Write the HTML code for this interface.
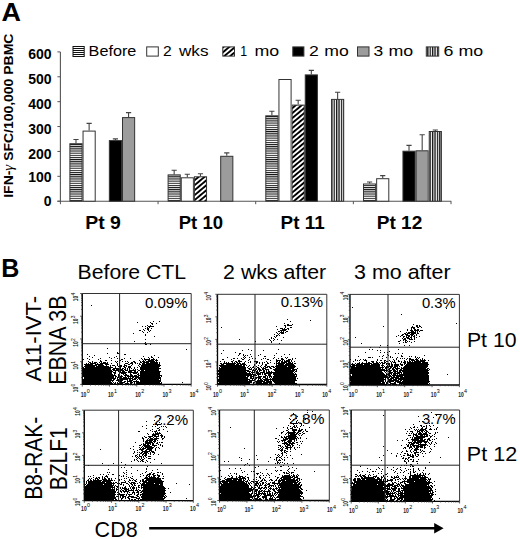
<!DOCTYPE html>
<html><head><meta charset="utf-8"><style>
html,body{margin:0;padding:0;background:#fff;}
svg{display:block;font-family:"Liberation Sans",sans-serif;}
</style></head><body>
<svg width="520" height="539" viewBox="0 0 520 539">
<rect width="520" height="539" fill="#fff"/>
<text x="1.59" y="20.50" font-size="26.38" font-weight="bold" textLength="19.48" lengthAdjust="spacingAndGlyphs" fill="#000" >A</text>
<text transform="translate(13.00,197.77) rotate(-90)" x="0" y="0" font-size="13.06" font-weight="bold" textLength="164.11" lengthAdjust="spacingAndGlyphs">IFN-<tspan font-family="Liberation Serif" font-style="italic" font-weight="normal" font-size="14">γ</tspan> SFC/100,000 PBMC</text>
<path d="M60.4 51.9V201.7" stroke="#555" stroke-width="1.1" fill="none"/>
<path d="M57.4 201.2H451.2" stroke="#555" stroke-width="1.1" fill="none"/>
<path d="M57.4 201.20H60.4M57.4 176.32H60.4M57.4 151.43H60.4M57.4 126.55H60.4M57.4 101.67H60.4M57.4 76.78H60.4M57.4 51.90H60.4" stroke="#555" stroke-width="1" fill="none"/>
<path d="M60.40 201.2V204.2M158.05 201.2V204.2M255.70 201.2V204.2M353.35 201.2V204.2M451.00 201.2V204.2" stroke="#555" stroke-width="1" fill="none"/>
<text x="28.18" y="58.70" font-size="14.0" font-weight="bold">600</text>
<text x="28.18" y="83.90" font-size="14.0" font-weight="bold">500</text>
<text x="28.18" y="108.70" font-size="14.0" font-weight="bold">400</text>
<text x="28.18" y="134.10" font-size="14.0" font-weight="bold">300</text>
<text x="28.18" y="158.90" font-size="14.0" font-weight="bold">200</text>
<text x="28.18" y="182.10" font-size="14.0" font-weight="bold">100</text>
<text x="43.72" y="206.10" font-size="14.0" font-weight="bold">0</text>
<defs>
<pattern id="hs" patternUnits="userSpaceOnUse" width="20" height="2.15"><rect width="20" height="1.05" fill="#111"/></pattern>
<pattern id="vs" patternUnits="userSpaceOnUse" width="2.4" height="20"><rect width="1.3" height="20" fill="#111"/></pattern>
<pattern id="dg" patternUnits="userSpaceOnUse" width="3.8" height="20" patternTransform="rotate(50)"><rect width="1.9" height="20" fill="#000"/></pattern>
</defs>
<rect x="69.40" y="143.20" width="13.15" height="58.00" fill="#fff"/>
<rect x="69.90" y="143.70" width="12.15" height="57.50" fill="url(#hs)" stroke="#333" stroke-width="1"/>
<path d="M75.98 143.20V139.50M73.38 139.50H78.58" stroke="#444" stroke-width="1.1" fill="none"/>
<rect x="83.05" y="131.10" width="12.15" height="70.10" fill="#fff" stroke="#333" stroke-width="1"/>
<path d="M89.13 130.60V123.40M86.53 123.40H91.73" stroke="#444" stroke-width="1.1" fill="none"/>
<rect x="109.35" y="140.60" width="12.15" height="60.60" fill="#000" stroke="#333" stroke-width="1"/>
<path d="M115.43 140.10V138.90M112.83 138.90H118.03" stroke="#444" stroke-width="1.1" fill="none"/>
<rect x="122.50" y="117.60" width="12.15" height="83.60" fill="#9c9c9c" stroke="#333" stroke-width="1"/>
<path d="M128.57 117.10V112.60M125.97 112.60H131.17" stroke="#444" stroke-width="1.1" fill="none"/>
<rect x="167.60" y="174.40" width="13.15" height="26.80" fill="#fff"/>
<rect x="168.10" y="174.90" width="12.15" height="26.30" fill="url(#hs)" stroke="#333" stroke-width="1"/>
<path d="M174.17 174.40V170.20M171.57 170.20H176.77" stroke="#444" stroke-width="1.1" fill="none"/>
<rect x="181.25" y="177.80" width="12.15" height="23.40" fill="#fff" stroke="#333" stroke-width="1"/>
<path d="M187.32 177.30V174.20M184.72 174.20H189.92" stroke="#444" stroke-width="1.1" fill="none"/>
<rect x="193.90" y="176.30" width="13.15" height="24.90" fill="#fff"/>
<rect x="194.40" y="176.80" width="12.15" height="24.40" fill="url(#dg)" stroke="#333" stroke-width="1"/>
<path d="M200.47 176.30V173.80M197.88 173.80H203.07" stroke="#444" stroke-width="1.1" fill="none"/>
<rect x="220.70" y="156.30" width="12.15" height="44.90" fill="#9c9c9c" stroke="#333" stroke-width="1"/>
<path d="M226.77 155.80V152.90M224.17 152.90H229.37" stroke="#444" stroke-width="1.1" fill="none"/>
<rect x="265.30" y="115.30" width="13.15" height="85.90" fill="#fff"/>
<rect x="265.80" y="115.80" width="12.15" height="85.40" fill="url(#hs)" stroke="#333" stroke-width="1"/>
<path d="M271.88 115.30V111.30M269.27 111.30H274.48" stroke="#444" stroke-width="1.1" fill="none"/>
<rect x="278.95" y="79.50" width="12.15" height="121.70" fill="#fff" stroke="#333" stroke-width="1"/>
<rect x="291.60" y="104.60" width="13.15" height="96.60" fill="#fff"/>
<rect x="292.10" y="105.10" width="12.15" height="96.10" fill="url(#dg)" stroke="#333" stroke-width="1"/>
<path d="M298.18 104.60V100.30M295.57 100.30H300.78" stroke="#444" stroke-width="1.1" fill="none"/>
<rect x="305.25" y="74.90" width="12.15" height="126.30" fill="#000" stroke="#333" stroke-width="1"/>
<path d="M311.32 74.40V70.40M308.72 70.40H313.93" stroke="#444" stroke-width="1.1" fill="none"/>
<rect x="331.05" y="98.90" width="13.15" height="102.30" fill="#fff"/>
<rect x="331.55" y="99.40" width="12.15" height="101.80" fill="url(#vs)" stroke="#333" stroke-width="1"/>
<path d="M337.62 98.90V92.30M335.02 92.30H340.23" stroke="#444" stroke-width="1.1" fill="none"/>
<rect x="363.00" y="183.50" width="13.15" height="17.70" fill="#fff"/>
<rect x="363.50" y="184.00" width="12.15" height="17.20" fill="url(#hs)" stroke="#333" stroke-width="1"/>
<path d="M369.57 183.50V182.00M366.97 182.00H372.18" stroke="#444" stroke-width="1.1" fill="none"/>
<rect x="376.65" y="178.70" width="12.15" height="22.50" fill="#fff" stroke="#333" stroke-width="1"/>
<path d="M382.72 178.20V175.60M380.12 175.60H385.32" stroke="#444" stroke-width="1.1" fill="none"/>
<rect x="402.95" y="151.20" width="12.15" height="50.00" fill="#000" stroke="#333" stroke-width="1"/>
<path d="M409.02 150.70V145.40M406.42 145.40H411.62" stroke="#444" stroke-width="1.1" fill="none"/>
<rect x="416.10" y="150.80" width="12.15" height="50.40" fill="#9c9c9c" stroke="#333" stroke-width="1"/>
<path d="M422.18 150.30V134.80M419.57 134.80H424.78" stroke="#444" stroke-width="1.1" fill="none"/>
<rect x="428.75" y="131.00" width="13.15" height="70.20" fill="#fff"/>
<rect x="429.25" y="131.50" width="12.15" height="69.70" fill="url(#vs)" stroke="#333" stroke-width="1"/>
<path d="M435.32 131.00V130.00M432.72 130.00H437.93" stroke="#444" stroke-width="1.1" fill="none"/>
<rect x="72.5" y="46" width="12.2" height="11" fill="#fff"/>
<path d="M72.5 46h12.2v1h-12.2zM72.5 48h12.2v1h-12.2zM72.5 50h12.2v1h-12.2zM72.5 52h12.2v1h-12.2zM72.5 54h12.2v1h-12.2zM72.5 56h12.2v1h-12.2zM72.5 46h1v11h-1zM83.7 46h1v11h-1z" fill="#111"/>
<text x="88.60" y="56.20" font-size="15.00" font-weight="normal" textLength="47.74" lengthAdjust="spacingAndGlyphs" fill="#000" >Before</text>
<rect x="146.70" y="46.9" width="11.60" height="9.20" fill="#fff" stroke="#333" stroke-width="1"/>
<text x="163.02" y="56.10" font-size="15.29" font-weight="normal" textLength="8.70" lengthAdjust="spacingAndGlyphs" fill="#000" >2</text>
<text x="179.00" y="56.10" font-size="15.29" font-weight="normal" textLength="29.52" lengthAdjust="spacingAndGlyphs" fill="#000" >wks</text>
<rect x="222.30" y="46.4" width="12.70" height="10.20" fill="#fff"/>
<rect x="222.80" y="46.9" width="11.70" height="9.20" fill="url(#dg)" stroke="#333" stroke-width="1"/>
<text x="240.31" y="56.10" font-size="15.51" font-weight="normal" textLength="6.85" lengthAdjust="spacingAndGlyphs" fill="#000" >1</text>
<text x="254.45" y="56.10" font-size="15.51" font-weight="normal" textLength="24.72" lengthAdjust="spacingAndGlyphs" fill="#000" >mo</text>
<rect x="292.80" y="46.9" width="11.10" height="9.20" fill="#000" stroke="#333" stroke-width="1"/>
<text x="308.92" y="56.10" font-size="15.29" font-weight="normal" textLength="9.79" lengthAdjust="spacingAndGlyphs" fill="#000" >2</text>
<text x="324.37" y="56.10" font-size="15.29" font-weight="normal" textLength="24.50" lengthAdjust="spacingAndGlyphs" fill="#000" >mo</text>
<rect x="357.50" y="46.9" width="11.50" height="9.20" fill="#9c9c9c" stroke="#333" stroke-width="1"/>
<text x="373.60" y="56.10" font-size="15.29" font-weight="normal" textLength="9.70" lengthAdjust="spacingAndGlyphs" fill="#000" >3</text>
<text x="388.45" y="56.10" font-size="15.29" font-weight="normal" textLength="24.72" lengthAdjust="spacingAndGlyphs" fill="#000" >mo</text>
<rect x="425.80" y="46.4" width="13.40" height="10.20" fill="#fff"/>
<rect x="426.30" y="46.9" width="12.40" height="9.20" fill="url(#vs)" stroke="#333" stroke-width="1"/>
<text x="443.41" y="56.10" font-size="15.29" font-weight="normal" textLength="9.91" lengthAdjust="spacingAndGlyphs" fill="#000" >6</text>
<text x="458.45" y="56.10" font-size="15.29" font-weight="normal" textLength="24.72" lengthAdjust="spacingAndGlyphs" fill="#000" >mo</text>
<text x="85.24" y="229.40" font-size="18.71" font-weight="bold" textLength="35.62" lengthAdjust="spacingAndGlyphs" fill="#000" >Pt 9</text>
<text x="178.70" y="229.40" font-size="18.71" font-weight="bold" textLength="44.34" lengthAdjust="spacingAndGlyphs" fill="#000" >Pt 10</text>
<text x="280.58" y="229.40" font-size="18.99" font-weight="bold" textLength="44.09" lengthAdjust="spacingAndGlyphs" fill="#000" >Pt 11</text>
<text x="376.66" y="229.40" font-size="18.71" font-weight="bold" textLength="45.60" lengthAdjust="spacingAndGlyphs" fill="#000" >Pt 12</text>
<text x="1.24" y="276.90" font-size="26.09" font-weight="bold" textLength="18.11" lengthAdjust="spacingAndGlyphs" fill="#000" >B</text>
<text x="77.50" y="279.20" font-size="20.14" font-weight="normal" textLength="108.60" lengthAdjust="spacingAndGlyphs" fill="#000" >Before CTL</text>
<text x="223.14" y="279.20" font-size="20.14" font-weight="normal" textLength="102.98" lengthAdjust="spacingAndGlyphs" fill="#000" >2 wks after</text>
<text x="354.14" y="279.20" font-size="20.14" font-weight="normal" textLength="96.40" lengthAdjust="spacingAndGlyphs" fill="#000" >3 mo after</text>
<text transform="translate(41.20,381.40) rotate(-90)" x="0" y="0" font-size="22.61" font-weight="normal" textLength="85.62" lengthAdjust="spacingAndGlyphs">A11-IVT-</text>
<text transform="translate(66.40,384.71) rotate(-90)" x="0" y="0" font-size="23.29" font-weight="normal" textLength="89.28" lengthAdjust="spacingAndGlyphs">EBNA 3B</text>
<text transform="translate(41.50,499.68) rotate(-90)" x="0" y="0" font-size="23.00" font-weight="normal" textLength="82.93" lengthAdjust="spacingAndGlyphs">B8-RAK-</text>
<text transform="translate(66.90,490.28) rotate(-90)" x="0" y="0" font-size="23.33" font-weight="normal" textLength="62.94" lengthAdjust="spacingAndGlyphs">BZLF1</text>
<text x="466.90" y="346.80" font-size="20.00" font-weight="normal" textLength="49.64" lengthAdjust="spacingAndGlyphs" fill="#000" >Pt 10</text>
<text x="466.88" y="461.20" font-size="20.57" font-weight="normal" textLength="50.29" lengthAdjust="spacingAndGlyphs" fill="#000" >Pt 12</text>
<text x="94.63" y="536.90" font-size="21.43" font-weight="normal" textLength="42.96" lengthAdjust="spacingAndGlyphs" fill="#000" >CD8</text>
<path d="M149.2 528.3H435" stroke="#000" stroke-width="2.4"/>
<path d="M434.2 523.0L443.6 528.3L434.2 533.4Z" fill="#000"/>
<path d="M91 305h1v1h-1zM82 316h1v1h-1zM153 321h1v1h-1zM159 321h1v1h-1zM137 322h1v1h-1zM150 322h1v1h-1zM151 323h2v1h-2zM156 323h1v1h-1zM152 324h1v1h-1zM147 325h1v1h-1zM150 325h1v1h-1zM142 326h1v1h-1zM145 326h1v1h-1zM148 326h6v1h-6zM147 327h1v1h-1zM149 327h1v1h-1zM145 328h1v1h-1zM147 328h2v1h-2zM151 328h1v1h-1zM143 329h1v1h-1zM147 329h2v1h-2zM139 330h2v1h-2zM144 330h1v1h-1zM148 330h1v1h-1zM150 330h1v1h-1zM142 331h1v1h-1zM149 331h1v1h-1zM143 332h1v1h-1zM147 332h1v1h-1zM133 333h1v1h-1zM145 334h1v1h-1zM145 335h1v1h-1zM154 336h1v1h-1zM145 339h1v1h-1zM134 341h1v1h-1zM145 342h1v1h-1zM144 343h2v1h-2zM145 344h2v1h-2zM150 344h1v1h-1zM107 348h1v1h-1zM186 349h1v1h-1zM117 352h1v1h-1zM107 353h1v1h-1zM117 353h2v1h-2zM87 354h1v1h-1zM124 354h2v1h-2zM94 355h1v1h-1zM154 355h1v1h-1zM89 356h1v1h-1zM116 356h1v1h-1zM143 356h1v1h-1zM151 356h1v1h-1zM92 357h1v1h-1zM109 357h1v1h-1zM114 357h1v1h-1zM148 357h1v1h-1zM151 357h2v1h-2zM158 357h1v1h-1zM87 358h1v1h-1zM100 358h1v1h-1zM111 358h1v1h-1zM117 358h1v1h-1zM119 358h1v1h-1zM124 358h1v1h-1zM130 358h1v1h-1zM141 358h1v1h-1zM144 358h1v1h-1zM149 358h1v1h-1zM153 358h1v1h-1zM83 359h1v1h-1zM89 359h1v1h-1zM98 359h1v1h-1zM121 359h2v1h-2zM142 359h1v1h-1zM144 359h6v1h-6zM151 359h4v1h-4zM156 359h1v1h-1zM100 360h1v1h-1zM105 360h2v1h-2zM111 360h1v1h-1zM119 360h2v1h-2zM139 360h1v1h-1zM143 360h1v1h-1zM145 360h1v1h-1zM148 360h6v1h-6zM155 360h3v1h-3zM88 361h1v1h-1zM92 361h1v1h-1zM100 361h2v1h-2zM115 361h1v1h-1zM117 361h1v1h-1zM122 361h1v1h-1zM125 361h1v1h-1zM127 361h1v1h-1zM133 361h2v1h-2zM140 361h1v1h-1zM142 361h3v1h-3zM146 361h9v1h-9zM156 361h1v1h-1zM89 362h2v1h-2zM92 362h1v1h-1zM94 362h3v1h-3zM99 362h1v1h-1zM101 362h1v1h-1zM103 362h3v1h-3zM107 362h1v1h-1zM116 362h1v1h-1zM119 362h1v1h-1zM128 362h1v1h-1zM131 362h2v1h-2zM134 362h2v1h-2zM140 362h2v1h-2zM143 362h6v1h-6zM150 362h8v1h-8zM159 362h1v1h-1zM86 363h1v1h-1zM88 363h1v1h-1zM90 363h6v1h-6zM97 363h1v1h-1zM100 363h8v1h-8zM111 363h1v1h-1zM117 363h1v1h-1zM125 363h3v1h-3zM130 363h3v1h-3zM135 363h1v1h-1zM137 363h1v1h-1zM139 363h1v1h-1zM142 363h3v1h-3zM146 363h12v1h-12zM159 363h1v1h-1zM84 364h9v1h-9zM95 364h8v1h-8zM105 364h4v1h-4zM117 364h1v1h-1zM124 364h1v1h-1zM128 364h2v1h-2zM132 364h1v1h-1zM139 364h2v1h-2zM142 364h18v1h-18zM85 365h12v1h-12zM98 365h6v1h-6zM106 365h1v1h-1zM110 365h1v1h-1zM112 365h3v1h-3zM117 365h1v1h-1zM119 365h3v1h-3zM124 365h3v1h-3zM131 365h1v1h-1zM138 365h1v1h-1zM141 365h20v1h-20zM84 366h11v1h-11zM96 366h13v1h-13zM110 366h1v1h-1zM115 366h1v1h-1zM118 366h4v1h-4zM123 366h2v1h-2zM126 366h1v1h-1zM128 366h3v1h-3zM139 366h1v1h-1zM141 366h19v1h-19zM82 367h2v1h-2zM85 367h28v1h-28zM115 367h1v1h-1zM120 367h1v1h-1zM124 367h2v1h-2zM128 367h3v1h-3zM134 367h1v1h-1zM137 367h1v1h-1zM140 367h19v1h-19zM83 368h28v1h-28zM113 368h6v1h-6zM120 368h1v1h-1zM122 368h2v1h-2zM125 368h1v1h-1zM127 368h1v1h-1zM129 368h1v1h-1zM131 368h1v1h-1zM134 368h1v1h-1zM140 368h21v1h-21zM82 369h29v1h-29zM112 369h3v1h-3zM116 369h7v1h-7zM124 369h2v1h-2zM127 369h1v1h-1zM129 369h1v1h-1zM133 369h1v1h-1zM135 369h1v1h-1zM137 369h1v1h-1zM140 369h19v1h-19zM82 370h30v1h-30zM113 370h6v1h-6zM120 370h4v1h-4zM125 370h3v1h-3zM129 370h7v1h-7zM138 370h2v1h-2zM141 370h3v1h-3zM145 370h14v1h-14zM83 371h30v1h-30zM115 371h1v1h-1zM118 371h1v1h-1zM120 371h1v1h-1zM122 371h3v1h-3zM128 371h4v1h-4zM134 371h2v1h-2zM137 371h1v1h-1zM140 371h21v1h-21zM82 372h30v1h-30zM113 372h3v1h-3zM119 372h8v1h-8zM128 372h10v1h-10zM140 372h20v1h-20zM82 373h30v1h-30zM114 373h2v1h-2zM119 373h1v1h-1zM121 373h5v1h-5zM130 373h1v1h-1zM133 373h4v1h-4zM138 373h1v1h-1zM140 373h20v1h-20zM83 374h30v1h-30zM114 374h1v1h-1zM118 374h1v1h-1zM123 374h1v1h-1zM125 374h2v1h-2zM130 374h2v1h-2zM137 374h2v1h-2zM140 374h20v1h-20zM83 375h33v1h-33zM118 375h2v1h-2zM121 375h1v1h-1zM124 375h5v1h-5zM130 375h3v1h-3zM134 375h3v1h-3zM138 375h24v1h-24zM82 376h32v1h-32zM115 376h2v1h-2zM118 376h1v1h-1zM120 376h3v1h-3zM125 376h1v1h-1zM127 376h12v1h-12zM140 376h20v1h-20zM161 376h1v1h-1zM84 377h30v1h-30zM115 377h1v1h-1zM117 377h2v1h-2zM120 377h2v1h-2zM123 377h4v1h-4zM128 377h1v1h-1zM130 377h1v1h-1zM132 377h2v1h-2zM135 377h26v1h-26zM84 378h32v1h-32zM117 378h1v1h-1zM119 378h14v1h-14zM134 378h3v1h-3zM138 378h23v1h-23zM82 379h30v1h-30zM113 379h2v1h-2zM117 379h2v1h-2zM120 379h8v1h-8zM129 379h2v1h-2zM132 379h4v1h-4zM137 379h1v1h-1zM139 379h20v1h-20zM160 379h1v1h-1zM82 380h32v1h-32zM116 380h7v1h-7zM127 380h1v1h-1zM129 380h4v1h-4zM136 380h1v1h-1zM140 380h21v1h-21zM82 381h29v1h-29zM112 381h1v1h-1zM118 381h1v1h-1zM120 381h2v1h-2zM124 381h2v1h-2zM127 381h5v1h-5zM133 381h6v1h-6zM140 381h21v1h-21zM82 382h30v1h-30zM113 382h1v1h-1zM115 382h1v1h-1zM117 382h1v1h-1zM119 382h6v1h-6zM127 382h1v1h-1zM130 382h3v1h-3zM134 382h1v1h-1zM136 382h24v1h-24zM161 382h1v1h-1zM182 382h1v1h-1zM82 383h31v1h-31zM114 383h2v1h-2zM117 383h6v1h-6zM125 383h4v1h-4zM130 383h2v1h-2zM134 383h1v1h-1zM136 383h26v1h-26z" fill="#000"/>
<path d="M82.3 293.5H191.2V384.4" stroke="#333" stroke-width="1" fill="none"/>
<path d="M82.3 293.5V384.4H191.2" stroke="#000" stroke-width="1.3" fill="none"/>
<path d="M119.6 293.5V384.4M82.3 343.7H191.2" stroke="#222" stroke-width="1" fill="none"/>
<path d="M82.30 384.4v2.2M82.3 384.40h-2.2M90.50 384.4v1.2M82.3 377.56h-1.2M95.29 384.4v1.2M82.3 373.56h-1.2M98.69 384.4v1.2M82.3 370.72h-1.2M101.33 384.4v1.2M82.3 368.52h-1.2M103.49 384.4v1.2M82.3 366.72h-1.2M105.31 384.4v1.2M82.3 365.20h-1.2M106.89 384.4v1.2M82.3 363.88h-1.2M108.28 384.4v1.2M82.3 362.71h-1.2M109.52 384.4v2.2M82.3 361.67h-2.2M117.72 384.4v1.2M82.3 354.83h-1.2M122.51 384.4v1.2M82.3 350.83h-1.2M125.92 384.4v1.2M82.3 347.99h-1.2M128.55 384.4v1.2M82.3 345.79h-1.2M130.71 384.4v1.2M82.3 343.99h-1.2M132.53 384.4v1.2M82.3 342.47h-1.2M134.11 384.4v1.2M82.3 341.15h-1.2M135.50 384.4v1.2M82.3 339.99h-1.2M136.75 384.4v2.2M82.3 338.95h-2.2M144.95 384.4v1.2M82.3 332.11h-1.2M149.74 384.4v1.2M82.3 328.11h-1.2M153.14 384.4v1.2M82.3 325.27h-1.2M155.78 384.4v1.2M82.3 323.07h-1.2M157.94 384.4v1.2M82.3 321.27h-1.2M159.76 384.4v1.2M82.3 319.75h-1.2M161.34 384.4v1.2M82.3 318.43h-1.2M162.73 384.4v1.2M82.3 317.26h-1.2M163.97 384.4v2.2M82.3 316.23h-2.2M172.17 384.4v1.2M82.3 309.38h-1.2M176.96 384.4v1.2M82.3 305.38h-1.2M180.37 384.4v1.2M82.3 302.54h-1.2M183.00 384.4v1.2M82.3 300.34h-1.2M185.16 384.4v1.2M82.3 298.54h-1.2M186.98 384.4v1.2M82.3 297.02h-1.2M188.56 384.4v1.2M82.3 295.70h-1.2M189.95 384.4v1.2M82.3 294.54h-1.2M191.20 384.4v2.2M82.3 293.50h-2.2" stroke="#333" stroke-width="0.8" fill="none"/>
<text x="80.80" y="396.80" font-size="7.6" font-weight="bold" textLength="5.6" lengthAdjust="spacingAndGlyphs" fill="#222">10</text>
<text x="86.70" y="393.20" font-size="5.4" fill="#000">0</text>
<text transform="translate(78.30,392.20) rotate(-90)" font-size="6.8" font-weight="bold" textLength="5.4" lengthAdjust="spacingAndGlyphs" fill="#222">10</text>
<text transform="translate(74.80,386.50) rotate(-90)" font-size="5.0" fill="#000">0</text>
<text x="108.02" y="396.80" font-size="7.6" font-weight="bold" textLength="5.6" lengthAdjust="spacingAndGlyphs" fill="#222">10</text>
<text x="113.92" y="393.20" font-size="5.4" fill="#000">1</text>
<text transform="translate(78.30,369.47) rotate(-90)" font-size="6.8" font-weight="bold" textLength="5.4" lengthAdjust="spacingAndGlyphs" fill="#222">10</text>
<text transform="translate(74.80,363.77) rotate(-90)" font-size="5.0" fill="#000">1</text>
<text x="135.25" y="396.80" font-size="7.6" font-weight="bold" textLength="5.6" lengthAdjust="spacingAndGlyphs" fill="#222">10</text>
<text x="141.15" y="393.20" font-size="5.4" fill="#000">2</text>
<text transform="translate(78.30,346.75) rotate(-90)" font-size="6.8" font-weight="bold" textLength="5.4" lengthAdjust="spacingAndGlyphs" fill="#222">10</text>
<text transform="translate(74.80,341.05) rotate(-90)" font-size="5.0" fill="#000">2</text>
<text x="162.47" y="396.80" font-size="7.6" font-weight="bold" textLength="5.6" lengthAdjust="spacingAndGlyphs" fill="#222">10</text>
<text x="168.38" y="393.20" font-size="5.4" fill="#000">3</text>
<text transform="translate(78.30,324.03) rotate(-90)" font-size="6.8" font-weight="bold" textLength="5.4" lengthAdjust="spacingAndGlyphs" fill="#222">10</text>
<text transform="translate(74.80,318.33) rotate(-90)" font-size="5.0" fill="#000">3</text>
<text x="189.70" y="396.80" font-size="7.6" font-weight="bold" textLength="5.6" lengthAdjust="spacingAndGlyphs" fill="#222">10</text>
<text x="195.60" y="393.20" font-size="5.4" fill="#000">4</text>
<text transform="translate(78.30,301.30) rotate(-90)" font-size="6.8" font-weight="bold" textLength="5.4" lengthAdjust="spacingAndGlyphs" fill="#222">10</text>
<text transform="translate(74.80,295.60) rotate(-90)" font-size="5.0" fill="#000">4</text>
<text x="144.90" y="307.90" font-size="15.14" font-weight="normal" textLength="42.74" lengthAdjust="spacingAndGlyphs" fill="#000" >0.09%</text>
<path d="M287 319h1v1h-1zM310 320h1v1h-1zM290 321h1v1h-1zM284 323h1v1h-1zM287 324h2v1h-2zM292 324h1v1h-1zM284 325h2v1h-2zM287 325h5v1h-5zM276 326h1v1h-1zM285 326h1v1h-1zM221 327h1v1h-1zM285 327h1v1h-1zM290 327h2v1h-2zM280 328h3v1h-3zM284 328h1v1h-1zM287 328h2v1h-2zM277 329h1v1h-1zM282 329h5v1h-5zM288 329h1v1h-1zM280 330h6v1h-6zM278 331h2v1h-2zM281 331h1v1h-1zM283 331h1v1h-1zM286 331h2v1h-2zM276 332h1v1h-1zM280 332h4v1h-4zM285 332h1v1h-1zM277 333h1v1h-1zM279 333h1v1h-1zM281 333h3v1h-3zM274 334h1v1h-1zM278 334h1v1h-1zM276 335h2v1h-2zM279 335h1v1h-1zM274 336h1v1h-1zM276 336h1v1h-1zM271 337h1v1h-1zM275 337h1v1h-1zM283 337h1v1h-1zM271 338h1v1h-1zM273 338h1v1h-1zM239 339h1v1h-1zM269 339h1v1h-1zM274 339h1v1h-1zM277 339h1v1h-1zM270 340h1v1h-1zM273 340h1v1h-1zM281 340h1v1h-1zM255 341h1v1h-1zM271 341h1v1h-1zM271 342h1v1h-1zM279 343h1v1h-1zM248 349h1v1h-1zM278 349h1v1h-1zM223 350h1v1h-1zM242 350h1v1h-1zM251 350h1v1h-1zM263 350h1v1h-1zM235 352h1v1h-1zM221 353h1v1h-1zM239 353h2v1h-2zM276 353h1v1h-1zM239 354h1v1h-1zM243 354h1v1h-1zM250 354h1v1h-1zM260 354h1v1h-1zM284 354h1v1h-1zM289 354h1v1h-1zM238 355h1v1h-1zM243 355h1v1h-1zM245 355h1v1h-1zM247 355h1v1h-1zM258 355h1v1h-1zM274 355h1v1h-1zM244 356h1v1h-1zM251 356h1v1h-1zM264 356h2v1h-2zM281 356h1v1h-1zM227 357h1v1h-1zM243 357h1v1h-1zM245 357h1v1h-1zM249 357h1v1h-1zM274 357h1v1h-1zM285 357h1v1h-1zM287 357h1v1h-1zM233 358h2v1h-2zM237 358h1v1h-1zM241 358h1v1h-1zM244 358h1v1h-1zM252 358h1v1h-1zM255 358h1v1h-1zM263 358h1v1h-1zM265 358h1v1h-1zM273 358h1v1h-1zM278 358h1v1h-1zM281 358h2v1h-2zM286 358h1v1h-1zM292 358h1v1h-1zM295 358h1v1h-1zM222 359h2v1h-2zM231 359h1v1h-1zM242 359h2v1h-2zM249 359h1v1h-1zM261 359h1v1h-1zM267 359h2v1h-2zM276 359h1v1h-1zM281 359h3v1h-3zM288 359h3v1h-3zM292 359h1v1h-1zM233 360h1v1h-1zM238 360h2v1h-2zM248 360h1v1h-1zM270 360h1v1h-1zM276 360h5v1h-5zM282 360h1v1h-1zM284 360h1v1h-1zM286 360h4v1h-4zM291 360h1v1h-1zM220 361h1v1h-1zM224 361h1v1h-1zM231 361h2v1h-2zM235 361h2v1h-2zM238 361h4v1h-4zM245 361h1v1h-1zM250 361h1v1h-1zM254 361h4v1h-4zM266 361h1v1h-1zM276 361h2v1h-2zM279 361h1v1h-1zM281 361h2v1h-2zM284 361h6v1h-6zM291 361h1v1h-1zM294 361h1v1h-1zM224 362h1v1h-1zM226 362h1v1h-1zM228 362h1v1h-1zM232 362h1v1h-1zM234 362h1v1h-1zM236 362h2v1h-2zM239 362h1v1h-1zM244 362h1v1h-1zM248 362h1v1h-1zM250 362h1v1h-1zM256 362h2v1h-2zM259 362h1v1h-1zM262 362h1v1h-1zM264 362h1v1h-1zM267 362h1v1h-1zM270 362h1v1h-1zM276 362h1v1h-1zM278 362h2v1h-2zM281 362h6v1h-6zM288 362h3v1h-3zM292 362h1v1h-1zM220 363h2v1h-2zM223 363h13v1h-13zM237 363h4v1h-4zM242 363h3v1h-3zM256 363h1v1h-1zM259 363h1v1h-1zM262 363h1v1h-1zM267 363h2v1h-2zM274 363h1v1h-1zM276 363h9v1h-9zM286 363h7v1h-7zM294 363h2v1h-2zM221 364h3v1h-3zM226 364h9v1h-9zM236 364h3v1h-3zM240 364h6v1h-6zM254 364h1v1h-1zM262 364h1v1h-1zM265 364h2v1h-2zM276 364h1v1h-1zM278 364h6v1h-6zM285 364h9v1h-9zM219 365h23v1h-23zM243 365h2v1h-2zM246 365h1v1h-1zM249 365h1v1h-1zM254 365h1v1h-1zM258 365h1v1h-1zM261 365h1v1h-1zM265 365h2v1h-2zM276 365h19v1h-19zM220 366h25v1h-25zM248 366h1v1h-1zM253 366h1v1h-1zM256 366h1v1h-1zM260 366h1v1h-1zM264 366h2v1h-2zM267 366h3v1h-3zM271 366h3v1h-3zM275 366h12v1h-12zM288 366h8v1h-8zM219 367h1v1h-1zM221 367h25v1h-25zM247 367h1v1h-1zM250 367h1v1h-1zM252 367h2v1h-2zM257 367h2v1h-2zM261 367h1v1h-1zM263 367h1v1h-1zM265 367h3v1h-3zM269 367h2v1h-2zM273 367h2v1h-2zM276 367h19v1h-19zM219 368h27v1h-27zM248 368h2v1h-2zM251 368h1v1h-1zM254 368h1v1h-1zM256 368h1v1h-1zM258 368h2v1h-2zM262 368h4v1h-4zM270 368h2v1h-2zM275 368h19v1h-19zM297 368h1v1h-1zM219 369h27v1h-27zM249 369h3v1h-3zM253 369h1v1h-1zM255 369h2v1h-2zM258 369h3v1h-3zM262 369h2v1h-2zM265 369h4v1h-4zM273 369h18v1h-18zM292 369h5v1h-5zM218 370h31v1h-31zM252 370h4v1h-4zM257 370h1v1h-1zM259 370h3v1h-3zM263 370h2v1h-2zM266 370h1v1h-1zM268 370h1v1h-1zM274 370h21v1h-21zM296 370h1v1h-1zM218 371h28v1h-28zM247 371h4v1h-4zM252 371h1v1h-1zM254 371h1v1h-1zM256 371h2v1h-2zM259 371h1v1h-1zM263 371h2v1h-2zM266 371h1v1h-1zM268 371h2v1h-2zM271 371h1v1h-1zM275 371h19v1h-19zM295 371h2v1h-2zM219 372h28v1h-28zM249 372h1v1h-1zM251 372h4v1h-4zM256 372h3v1h-3zM260 372h5v1h-5zM266 372h27v1h-27zM294 372h1v1h-1zM218 373h33v1h-33zM252 373h1v1h-1zM256 373h5v1h-5zM262 373h1v1h-1zM264 373h8v1h-8zM273 373h21v1h-21zM295 373h1v1h-1zM218 374h38v1h-38zM257 374h4v1h-4zM262 374h1v1h-1zM264 374h2v1h-2zM268 374h3v1h-3zM273 374h24v1h-24zM219 375h33v1h-33zM253 375h4v1h-4zM258 375h1v1h-1zM265 375h2v1h-2zM268 375h3v1h-3zM274 375h21v1h-21zM296 375h1v1h-1zM218 376h28v1h-28zM247 376h2v1h-2zM250 376h4v1h-4zM258 376h4v1h-4zM263 376h3v1h-3zM267 376h1v1h-1zM269 376h3v1h-3zM273 376h24v1h-24zM219 377h29v1h-29zM250 377h2v1h-2zM253 377h1v1h-1zM255 377h6v1h-6zM263 377h3v1h-3zM267 377h1v1h-1zM269 377h1v1h-1zM271 377h1v1h-1zM273 377h23v1h-23zM219 378h29v1h-29zM250 378h4v1h-4zM255 378h2v1h-2zM258 378h3v1h-3zM262 378h1v1h-1zM265 378h3v1h-3zM270 378h1v1h-1zM272 378h24v1h-24zM297 378h1v1h-1zM218 379h32v1h-32zM252 379h1v1h-1zM254 379h2v1h-2zM258 379h1v1h-1zM260 379h2v1h-2zM263 379h33v1h-33zM218 380h30v1h-30zM249 380h6v1h-6zM257 380h6v1h-6zM264 380h5v1h-5zM270 380h1v1h-1zM272 380h25v1h-25zM218 381h34v1h-34zM255 381h10v1h-10zM266 381h6v1h-6zM273 381h22v1h-22zM219 382h33v1h-33zM253 382h2v1h-2zM256 382h6v1h-6zM263 382h9v1h-9zM274 382h21v1h-21zM218 383h32v1h-32zM253 383h1v1h-1zM256 383h12v1h-12zM269 383h3v1h-3zM275 383h22v1h-22z" fill="#000"/>
<path d="M217.5 294.3H326.8V384.5" stroke="#333" stroke-width="1" fill="none"/>
<path d="M217.5 294.3V384.5H326.8" stroke="#000" stroke-width="1.3" fill="none"/>
<path d="M255.0 294.3V384.5M217.5 344.2H326.8" stroke="#222" stroke-width="1" fill="none"/>
<path d="M217.50 384.5v2.2M217.5 384.50h-2.2M225.73 384.5v1.2M217.5 377.71h-1.2M230.54 384.5v1.2M217.5 373.74h-1.2M233.95 384.5v1.2M217.5 370.92h-1.2M236.60 384.5v1.2M217.5 368.74h-1.2M238.76 384.5v1.2M217.5 366.95h-1.2M240.59 384.5v1.2M217.5 365.44h-1.2M242.18 384.5v1.2M217.5 364.14h-1.2M243.57 384.5v1.2M217.5 362.98h-1.2M244.82 384.5v2.2M217.5 361.95h-2.2M253.05 384.5v1.2M217.5 355.16h-1.2M257.86 384.5v1.2M217.5 351.19h-1.2M261.28 384.5v1.2M217.5 348.37h-1.2M263.92 384.5v1.2M217.5 346.19h-1.2M266.09 384.5v1.2M217.5 344.40h-1.2M267.92 384.5v1.2M217.5 342.89h-1.2M269.50 384.5v1.2M217.5 341.59h-1.2M270.90 384.5v1.2M217.5 340.43h-1.2M272.15 384.5v2.2M217.5 339.40h-2.2M280.38 384.5v1.2M217.5 332.61h-1.2M285.19 384.5v1.2M217.5 328.64h-1.2M288.60 384.5v1.2M217.5 325.82h-1.2M291.25 384.5v1.2M217.5 323.64h-1.2M293.41 384.5v1.2M217.5 321.85h-1.2M295.24 384.5v1.2M217.5 320.34h-1.2M296.83 384.5v1.2M217.5 319.04h-1.2M298.22 384.5v1.2M217.5 317.88h-1.2M299.48 384.5v2.2M217.5 316.85h-2.2M307.70 384.5v1.2M217.5 310.06h-1.2M312.51 384.5v1.2M217.5 306.09h-1.2M315.93 384.5v1.2M217.5 303.27h-1.2M318.57 384.5v1.2M217.5 301.09h-1.2M320.74 384.5v1.2M217.5 299.30h-1.2M322.57 384.5v1.2M217.5 297.79h-1.2M324.15 384.5v1.2M217.5 296.49h-1.2M325.55 384.5v1.2M217.5 295.33h-1.2M326.80 384.5v2.2M217.5 294.30h-2.2" stroke="#333" stroke-width="0.8" fill="none"/>
<text x="213.00" y="396.50" font-size="7.6" font-weight="bold" textLength="5.6" lengthAdjust="spacingAndGlyphs" fill="#222">10</text>
<text x="218.90" y="392.90" font-size="5.4" fill="#000">0</text>
<text transform="translate(211.30,390.60) rotate(-90)" font-size="6.8" font-weight="bold" textLength="5.4" lengthAdjust="spacingAndGlyphs" fill="#222">10</text>
<text transform="translate(207.80,384.90) rotate(-90)" font-size="5.0" fill="#000">0</text>
<text x="240.32" y="396.50" font-size="7.6" font-weight="bold" textLength="5.6" lengthAdjust="spacingAndGlyphs" fill="#222">10</text>
<text x="246.22" y="392.90" font-size="5.4" fill="#000">1</text>
<text transform="translate(211.30,368.05) rotate(-90)" font-size="6.8" font-weight="bold" textLength="5.4" lengthAdjust="spacingAndGlyphs" fill="#222">10</text>
<text transform="translate(207.80,362.35) rotate(-90)" font-size="5.0" fill="#000">1</text>
<text x="267.65" y="396.50" font-size="7.6" font-weight="bold" textLength="5.6" lengthAdjust="spacingAndGlyphs" fill="#222">10</text>
<text x="273.55" y="392.90" font-size="5.4" fill="#000">2</text>
<text transform="translate(211.30,345.50) rotate(-90)" font-size="6.8" font-weight="bold" textLength="5.4" lengthAdjust="spacingAndGlyphs" fill="#222">10</text>
<text transform="translate(207.80,339.80) rotate(-90)" font-size="5.0" fill="#000">2</text>
<text x="294.98" y="396.50" font-size="7.6" font-weight="bold" textLength="5.6" lengthAdjust="spacingAndGlyphs" fill="#222">10</text>
<text x="300.88" y="392.90" font-size="5.4" fill="#000">3</text>
<text transform="translate(211.30,322.95) rotate(-90)" font-size="6.8" font-weight="bold" textLength="5.4" lengthAdjust="spacingAndGlyphs" fill="#222">10</text>
<text transform="translate(207.80,317.25) rotate(-90)" font-size="5.0" fill="#000">3</text>
<text x="322.30" y="396.50" font-size="7.6" font-weight="bold" textLength="5.6" lengthAdjust="spacingAndGlyphs" fill="#222">10</text>
<text x="328.20" y="392.90" font-size="5.4" fill="#000">4</text>
<text transform="translate(211.30,300.40) rotate(-90)" font-size="6.8" font-weight="bold" textLength="5.4" lengthAdjust="spacingAndGlyphs" fill="#222">10</text>
<text transform="translate(207.80,294.70) rotate(-90)" font-size="5.0" fill="#000">4</text>
<text x="280.70" y="307.00" font-size="14.29" font-weight="normal" textLength="42.32" lengthAdjust="spacingAndGlyphs" fill="#000" >0.13%</text>
<path d="M352 307h1v1h-1zM446 308h1v1h-1zM401 314h1v1h-1zM456 323h1v1h-1zM413 324h1v1h-1zM416 325h2v1h-2zM419 325h1v1h-1zM383 326h1v1h-1zM412 326h1v1h-1zM416 326h2v1h-2zM419 326h2v1h-2zM411 327h4v1h-4zM417 327h2v1h-2zM421 327h1v1h-1zM411 328h1v1h-1zM413 328h2v1h-2zM407 329h1v1h-1zM411 329h1v1h-1zM414 329h2v1h-2zM417 329h2v1h-2zM407 330h1v1h-1zM410 330h3v1h-3zM414 330h5v1h-5zM420 330h3v1h-3zM400 331h1v1h-1zM411 331h3v1h-3zM415 331h1v1h-1zM417 331h1v1h-1zM419 331h1v1h-1zM406 332h1v1h-1zM408 332h8v1h-8zM417 332h1v1h-1zM404 333h2v1h-2zM407 333h3v1h-3zM411 333h5v1h-5zM417 333h2v1h-2zM402 334h2v1h-2zM405 334h3v1h-3zM410 334h4v1h-4zM416 334h1v1h-1zM398 335h1v1h-1zM401 335h2v1h-2zM406 335h4v1h-4zM411 335h2v1h-2zM414 335h1v1h-1zM416 335h1v1h-1zM396 336h1v1h-1zM400 336h1v1h-1zM403 336h2v1h-2zM406 336h1v1h-1zM408 336h2v1h-2zM411 336h1v1h-1zM413 336h2v1h-2zM419 336h1v1h-1zM355 337h1v1h-1zM403 337h1v1h-1zM406 337h3v1h-3zM410 337h2v1h-2zM414 337h1v1h-1zM416 337h1v1h-1zM402 338h1v1h-1zM404 338h2v1h-2zM407 338h3v1h-3zM411 338h1v1h-1zM414 338h1v1h-1zM403 339h3v1h-3zM409 339h4v1h-4zM414 339h1v1h-1zM400 340h1v1h-1zM403 340h1v1h-1zM405 340h2v1h-2zM398 341h2v1h-2zM405 341h1v1h-1zM407 341h1v1h-1zM409 341h1v1h-1zM414 341h1v1h-1zM403 342h1v1h-1zM405 342h2v1h-2zM411 342h1v1h-1zM361 343h1v1h-1zM399 343h1v1h-1zM380 345h1v1h-1zM387 345h1v1h-1zM404 345h1v1h-1zM409 345h1v1h-1zM370 347h1v1h-1zM379 347h1v1h-1zM387 347h1v1h-1zM369 349h1v1h-1zM372 349h1v1h-1zM398 349h1v1h-1zM377 350h1v1h-1zM380 350h1v1h-1zM389 351h1v1h-1zM365 352h1v1h-1zM380 352h1v1h-1zM384 352h1v1h-1zM387 352h1v1h-1zM395 353h1v1h-1zM398 353h1v1h-1zM402 353h1v1h-1zM387 354h1v1h-1zM383 355h1v1h-1zM388 355h1v1h-1zM401 355h1v1h-1zM424 355h1v1h-1zM358 356h1v1h-1zM379 356h1v1h-1zM382 356h1v1h-1zM390 356h1v1h-1zM401 356h2v1h-2zM409 356h1v1h-1zM411 356h1v1h-1zM415 356h1v1h-1zM368 357h3v1h-3zM372 357h1v1h-1zM386 357h1v1h-1zM390 357h1v1h-1zM392 357h1v1h-1zM397 357h1v1h-1zM415 357h1v1h-1zM417 357h1v1h-1zM419 357h1v1h-1zM382 358h1v1h-1zM396 358h1v1h-1zM400 358h1v1h-1zM402 358h1v1h-1zM404 358h1v1h-1zM407 358h1v1h-1zM409 358h2v1h-2zM416 358h1v1h-1zM418 358h1v1h-1zM422 358h1v1h-1zM350 359h1v1h-1zM355 359h1v1h-1zM360 359h1v1h-1zM363 359h1v1h-1zM365 359h1v1h-1zM377 359h1v1h-1zM393 359h1v1h-1zM396 359h1v1h-1zM406 359h1v1h-1zM409 359h5v1h-5zM415 359h3v1h-3zM420 359h1v1h-1zM422 359h1v1h-1zM424 359h1v1h-1zM355 360h1v1h-1zM357 360h1v1h-1zM359 360h1v1h-1zM364 360h3v1h-3zM377 360h1v1h-1zM380 360h2v1h-2zM384 360h2v1h-2zM389 360h1v1h-1zM394 360h1v1h-1zM398 360h1v1h-1zM404 360h1v1h-1zM409 360h1v1h-1zM411 360h4v1h-4zM416 360h3v1h-3zM420 360h6v1h-6zM428 360h1v1h-1zM353 361h1v1h-1zM366 361h1v1h-1zM371 361h3v1h-3zM376 361h1v1h-1zM384 361h1v1h-1zM386 361h2v1h-2zM390 361h1v1h-1zM392 361h1v1h-1zM394 361h1v1h-1zM398 361h2v1h-2zM401 361h1v1h-1zM404 361h2v1h-2zM407 361h1v1h-1zM409 361h2v1h-2zM412 361h1v1h-1zM414 361h11v1h-11zM359 362h1v1h-1zM362 362h1v1h-1zM366 362h1v1h-1zM368 362h2v1h-2zM372 362h2v1h-2zM376 362h2v1h-2zM379 362h1v1h-1zM381 362h2v1h-2zM384 362h2v1h-2zM391 362h1v1h-1zM393 362h3v1h-3zM401 362h1v1h-1zM403 362h3v1h-3zM407 362h14v1h-14zM422 362h6v1h-6zM352 363h1v1h-1zM355 363h1v1h-1zM357 363h3v1h-3zM361 363h11v1h-11zM373 363h6v1h-6zM380 363h1v1h-1zM382 363h3v1h-3zM386 363h4v1h-4zM391 363h1v1h-1zM395 363h1v1h-1zM400 363h1v1h-1zM404 363h2v1h-2zM407 363h21v1h-21zM351 364h4v1h-4zM356 364h7v1h-7zM364 364h6v1h-6zM371 364h9v1h-9zM382 364h1v1h-1zM386 364h1v1h-1zM388 364h2v1h-2zM391 364h2v1h-2zM394 364h5v1h-5zM400 364h3v1h-3zM404 364h1v1h-1zM406 364h23v1h-23zM350 365h1v1h-1zM352 365h28v1h-28zM381 365h3v1h-3zM387 365h1v1h-1zM389 365h1v1h-1zM391 365h2v1h-2zM394 365h5v1h-5zM401 365h2v1h-2zM405 365h23v1h-23zM350 366h5v1h-5zM356 366h24v1h-24zM382 366h1v1h-1zM384 366h1v1h-1zM386 366h7v1h-7zM394 366h4v1h-4zM399 366h1v1h-1zM404 366h24v1h-24zM351 367h33v1h-33zM385 367h4v1h-4zM390 367h2v1h-2zM393 367h3v1h-3zM397 367h1v1h-1zM401 367h1v1h-1zM403 367h24v1h-24zM351 368h30v1h-30zM382 368h1v1h-1zM385 368h2v1h-2zM389 368h2v1h-2zM392 368h2v1h-2zM395 368h5v1h-5zM401 368h25v1h-25zM427 368h2v1h-2zM350 369h35v1h-35zM386 369h1v1h-1zM388 369h2v1h-2zM392 369h3v1h-3zM396 369h2v1h-2zM400 369h2v1h-2zM403 369h25v1h-25zM429 369h1v1h-1zM350 370h38v1h-38zM389 370h3v1h-3zM393 370h3v1h-3zM397 370h1v1h-1zM399 370h30v1h-30zM350 371h32v1h-32zM384 371h1v1h-1zM386 371h1v1h-1zM388 371h3v1h-3zM393 371h5v1h-5zM399 371h2v1h-2zM402 371h26v1h-26zM350 372h33v1h-33zM385 372h1v1h-1zM389 372h4v1h-4zM394 372h2v1h-2zM397 372h5v1h-5zM403 372h26v1h-26zM350 373h34v1h-34zM386 373h1v1h-1zM388 373h4v1h-4zM393 373h7v1h-7zM401 373h1v1h-1zM403 373h26v1h-26zM352 374h33v1h-33zM386 374h4v1h-4zM391 374h1v1h-1zM393 374h3v1h-3zM397 374h1v1h-1zM399 374h29v1h-29zM447 374h1v1h-1zM350 375h1v1h-1zM352 375h35v1h-35zM388 375h3v1h-3zM392 375h37v1h-37zM350 376h38v1h-38zM389 376h3v1h-3zM393 376h2v1h-2zM396 376h7v1h-7zM404 376h25v1h-25zM350 377h40v1h-40zM391 377h8v1h-8zM400 377h29v1h-29zM350 378h34v1h-34zM385 378h1v1h-1zM387 378h2v1h-2zM390 378h4v1h-4zM395 378h34v1h-34zM350 379h36v1h-36zM388 379h4v1h-4zM393 379h4v1h-4zM398 379h31v1h-31zM350 380h34v1h-34zM385 380h1v1h-1zM388 380h11v1h-11zM400 380h2v1h-2zM403 380h26v1h-26zM351 381h33v1h-33zM385 381h1v1h-1zM387 381h7v1h-7zM395 381h6v1h-6zM402 381h28v1h-28zM350 382h31v1h-31zM382 382h3v1h-3zM386 382h2v1h-2zM389 382h2v1h-2zM394 382h2v1h-2zM397 382h32v1h-32zM350 383h35v1h-35zM386 383h2v1h-2zM390 383h6v1h-6zM399 383h29v1h-29zM429 383h1v1h-1zM350 384h37v1h-37zM388 384h3v1h-3zM392 384h5v1h-5zM399 384h1v1h-1zM401 384h1v1h-1zM403 384h26v1h-26z" fill="#000"/>
<path d="M350.0 294.4H459.4V385.0" stroke="#333" stroke-width="1" fill="none"/>
<path d="M350.0 294.4V385.0H459.4" stroke="#000" stroke-width="1.3" fill="none"/>
<path d="M388.0 294.4V385.0M350.0 347.2H459.4" stroke="#222" stroke-width="1" fill="none"/>
<path d="M350.00 385.0v2.2M350.0 385.00h-2.2M358.23 385.0v1.2M350.0 378.18h-1.2M363.05 385.0v1.2M350.0 374.19h-1.2M366.47 385.0v1.2M350.0 371.36h-1.2M369.12 385.0v1.2M350.0 369.17h-1.2M371.28 385.0v1.2M350.0 367.37h-1.2M373.11 385.0v1.2M350.0 365.86h-1.2M374.70 385.0v1.2M350.0 364.55h-1.2M376.10 385.0v1.2M350.0 363.39h-1.2M377.35 385.0v2.2M350.0 362.35h-2.2M385.58 385.0v1.2M350.0 355.53h-1.2M390.40 385.0v1.2M350.0 351.54h-1.2M393.82 385.0v1.2M350.0 348.71h-1.2M396.47 385.0v1.2M350.0 346.52h-1.2M398.63 385.0v1.2M350.0 344.72h-1.2M400.46 385.0v1.2M350.0 343.21h-1.2M402.05 385.0v1.2M350.0 341.90h-1.2M403.45 385.0v1.2M350.0 340.74h-1.2M404.70 385.0v2.2M350.0 339.70h-2.2M412.93 385.0v1.2M350.0 332.88h-1.2M417.75 385.0v1.2M350.0 328.89h-1.2M421.17 385.0v1.2M350.0 326.06h-1.2M423.82 385.0v1.2M350.0 323.87h-1.2M425.98 385.0v1.2M350.0 322.07h-1.2M427.81 385.0v1.2M350.0 320.56h-1.2M429.40 385.0v1.2M350.0 319.25h-1.2M430.80 385.0v1.2M350.0 318.09h-1.2M432.05 385.0v2.2M350.0 317.05h-2.2M440.28 385.0v1.2M350.0 310.23h-1.2M445.10 385.0v1.2M350.0 306.24h-1.2M448.52 385.0v1.2M350.0 303.41h-1.2M451.17 385.0v1.2M350.0 301.22h-1.2M453.33 385.0v1.2M350.0 299.42h-1.2M455.16 385.0v1.2M350.0 297.91h-1.2M456.75 385.0v1.2M350.0 296.60h-1.2M458.15 385.0v1.2M350.0 295.44h-1.2M459.40 385.0v2.2M350.0 294.40h-2.2" stroke="#333" stroke-width="0.8" fill="none"/>
<text x="348.80" y="396.70" font-size="7.6" font-weight="bold" textLength="5.6" lengthAdjust="spacingAndGlyphs" fill="#222">10</text>
<text x="354.70" y="393.10" font-size="5.4" fill="#000">0</text>
<text transform="translate(347.50,390.80) rotate(-90)" font-size="6.8" font-weight="bold" textLength="5.4" lengthAdjust="spacingAndGlyphs" fill="#222">10</text>
<text transform="translate(344.00,385.10) rotate(-90)" font-size="5.0" fill="#000">0</text>
<text x="376.15" y="396.70" font-size="7.6" font-weight="bold" textLength="5.6" lengthAdjust="spacingAndGlyphs" fill="#222">10</text>
<text x="382.05" y="393.10" font-size="5.4" fill="#000">1</text>
<text transform="translate(347.50,368.15) rotate(-90)" font-size="6.8" font-weight="bold" textLength="5.4" lengthAdjust="spacingAndGlyphs" fill="#222">10</text>
<text transform="translate(344.00,362.45) rotate(-90)" font-size="5.0" fill="#000">1</text>
<text x="403.50" y="396.70" font-size="7.6" font-weight="bold" textLength="5.6" lengthAdjust="spacingAndGlyphs" fill="#222">10</text>
<text x="409.40" y="393.10" font-size="5.4" fill="#000">2</text>
<text transform="translate(347.50,345.50) rotate(-90)" font-size="6.8" font-weight="bold" textLength="5.4" lengthAdjust="spacingAndGlyphs" fill="#222">10</text>
<text transform="translate(344.00,339.80) rotate(-90)" font-size="5.0" fill="#000">2</text>
<text x="430.85" y="396.70" font-size="7.6" font-weight="bold" textLength="5.6" lengthAdjust="spacingAndGlyphs" fill="#222">10</text>
<text x="436.75" y="393.10" font-size="5.4" fill="#000">3</text>
<text transform="translate(347.50,322.85) rotate(-90)" font-size="6.8" font-weight="bold" textLength="5.4" lengthAdjust="spacingAndGlyphs" fill="#222">10</text>
<text transform="translate(344.00,317.15) rotate(-90)" font-size="5.0" fill="#000">3</text>
<text x="458.20" y="396.70" font-size="7.6" font-weight="bold" textLength="5.6" lengthAdjust="spacingAndGlyphs" fill="#222">10</text>
<text x="464.10" y="393.10" font-size="5.4" fill="#000">4</text>
<text transform="translate(347.50,300.20) rotate(-90)" font-size="6.8" font-weight="bold" textLength="5.4" lengthAdjust="spacingAndGlyphs" fill="#222">10</text>
<text transform="translate(344.00,294.50) rotate(-90)" font-size="5.0" fill="#000">4</text>
<text x="421.91" y="307.50" font-size="14.57" font-weight="normal" textLength="33.67" lengthAdjust="spacingAndGlyphs" fill="#000" >0.3%</text>
<path d="M159 418h1v1h-1zM169 418h1v1h-1zM154 420h1v1h-1zM146 421h1v1h-1zM159 422h1v1h-1zM156 423h1v1h-1zM161 423h1v1h-1zM153 424h1v1h-1zM146 425h1v1h-1zM157 425h1v1h-1zM142 426h1v1h-1zM152 426h1v1h-1zM155 426h1v1h-1zM161 426h1v1h-1zM163 426h1v1h-1zM165 426h1v1h-1zM159 427h1v1h-1zM166 427h1v1h-1zM146 428h1v1h-1zM157 428h2v1h-2zM152 429h1v1h-1zM159 429h1v1h-1zM163 429h1v1h-1zM150 430h1v1h-1zM156 430h1v1h-1zM158 430h2v1h-2zM138 431h2v1h-2zM152 431h1v1h-1zM154 431h3v1h-3zM167 431h1v1h-1zM155 432h1v1h-1zM157 432h1v1h-1zM159 432h1v1h-1zM147 433h1v1h-1zM153 433h1v1h-1zM155 433h6v1h-6zM148 434h1v1h-1zM152 434h7v1h-7zM161 434h1v1h-1zM152 435h4v1h-4zM158 435h1v1h-1zM160 435h3v1h-3zM144 436h1v1h-1zM148 436h5v1h-5zM154 436h5v1h-5zM161 436h2v1h-2zM164 436h1v1h-1zM142 437h1v1h-1zM145 437h2v1h-2zM149 437h2v1h-2zM153 437h1v1h-1zM156 437h1v1h-1zM161 437h1v1h-1zM164 437h1v1h-1zM142 438h2v1h-2zM148 438h1v1h-1zM150 438h3v1h-3zM154 438h5v1h-5zM162 438h2v1h-2zM143 439h1v1h-1zM147 439h1v1h-1zM149 439h8v1h-8zM162 439h1v1h-1zM143 440h1v1h-1zM146 440h7v1h-7zM154 440h2v1h-2zM157 440h1v1h-1zM143 441h1v1h-1zM145 441h3v1h-3zM149 441h3v1h-3zM153 441h3v1h-3zM135 442h1v1h-1zM145 442h8v1h-8zM154 442h1v1h-1zM157 442h1v1h-1zM159 442h1v1h-1zM161 442h2v1h-2zM143 443h1v1h-1zM145 443h6v1h-6zM152 443h2v1h-2zM156 443h2v1h-2zM141 444h1v1h-1zM143 444h3v1h-3zM147 444h2v1h-2zM150 444h1v1h-1zM152 444h2v1h-2zM158 444h1v1h-1zM160 444h1v1h-1zM139 445h2v1h-2zM143 445h7v1h-7zM152 445h5v1h-5zM160 445h1v1h-1zM162 445h1v1h-1zM133 446h1v1h-1zM142 446h1v1h-1zM144 446h8v1h-8zM154 446h1v1h-1zM162 446h1v1h-1zM139 447h1v1h-1zM141 447h1v1h-1zM143 447h1v1h-1zM145 447h9v1h-9zM156 447h1v1h-1zM158 447h1v1h-1zM130 448h1v1h-1zM140 448h1v1h-1zM142 448h4v1h-4zM147 448h6v1h-6zM155 448h1v1h-1zM159 448h1v1h-1zM100 449h1v1h-1zM133 449h1v1h-1zM139 449h5v1h-5zM146 449h6v1h-6zM155 449h1v1h-1zM137 450h1v1h-1zM141 450h2v1h-2zM145 450h2v1h-2zM149 450h3v1h-3zM155 450h1v1h-1zM134 451h1v1h-1zM142 451h8v1h-8zM151 451h3v1h-3zM134 452h1v1h-1zM137 452h1v1h-1zM139 452h1v1h-1zM141 452h2v1h-2zM144 452h4v1h-4zM150 452h1v1h-1zM152 452h3v1h-3zM133 453h1v1h-1zM140 453h2v1h-2zM143 453h4v1h-4zM148 453h1v1h-1zM150 453h1v1h-1zM154 453h1v1h-1zM137 454h1v1h-1zM139 454h1v1h-1zM142 454h2v1h-2zM145 454h2v1h-2zM150 454h1v1h-1zM153 454h1v1h-1zM158 454h1v1h-1zM135 455h2v1h-2zM139 455h1v1h-1zM142 455h1v1h-1zM144 455h3v1h-3zM132 456h1v1h-1zM135 456h1v1h-1zM137 456h1v1h-1zM139 456h3v1h-3zM143 456h1v1h-1zM145 456h1v1h-1zM148 456h3v1h-3zM136 457h1v1h-1zM138 457h1v1h-1zM141 457h1v1h-1zM143 457h1v1h-1zM146 457h1v1h-1zM137 458h1v1h-1zM139 458h1v1h-1zM141 458h1v1h-1zM144 458h1v1h-1zM148 458h3v1h-3zM134 459h1v1h-1zM136 459h1v1h-1zM140 459h1v1h-1zM142 459h2v1h-2zM154 459h1v1h-1zM134 460h1v1h-1zM137 460h1v1h-1zM141 460h2v1h-2zM146 460h1v1h-1zM131 461h1v1h-1zM138 461h1v1h-1zM140 461h1v1h-1zM142 461h2v1h-2zM147 461h1v1h-1zM121 462h1v1h-1zM145 462h1v1h-1zM150 462h1v1h-1zM102 463h1v1h-1zM113 463h1v1h-1zM161 463h1v1h-1zM125 464h1v1h-1zM88 465h1v1h-1zM108 465h1v1h-1zM84 466h1v1h-1zM147 466h1v1h-1zM121 467h1v1h-1zM124 467h1v1h-1zM131 467h1v1h-1zM146 468h1v1h-1zM108 469h1v1h-1zM146 469h1v1h-1zM157 469h1v1h-1zM126 470h1v1h-1zM137 470h1v1h-1zM152 470h1v1h-1zM146 471h1v1h-1zM107 472h1v1h-1zM109 472h1v1h-1zM123 472h1v1h-1zM126 472h1v1h-1zM145 472h1v1h-1zM151 472h1v1h-1zM157 472h2v1h-2zM160 472h1v1h-1zM124 473h1v1h-1zM131 473h1v1h-1zM142 473h1v1h-1zM149 473h2v1h-2zM153 473h2v1h-2zM162 473h1v1h-1zM100 474h1v1h-1zM103 474h1v1h-1zM108 474h1v1h-1zM112 474h2v1h-2zM126 474h1v1h-1zM140 474h1v1h-1zM147 474h4v1h-4zM152 474h2v1h-2zM157 474h1v1h-1zM162 474h1v1h-1zM93 475h1v1h-1zM106 475h1v1h-1zM119 475h1v1h-1zM123 475h1v1h-1zM143 475h1v1h-1zM146 475h2v1h-2zM149 475h1v1h-1zM153 475h3v1h-3zM157 475h3v1h-3zM88 476h1v1h-1zM90 476h1v1h-1zM102 476h1v1h-1zM105 476h3v1h-3zM121 476h1v1h-1zM123 476h1v1h-1zM126 476h1v1h-1zM132 476h1v1h-1zM140 476h1v1h-1zM146 476h1v1h-1zM148 476h2v1h-2zM151 476h1v1h-1zM153 476h2v1h-2zM158 476h2v1h-2zM163 476h1v1h-1zM93 477h1v1h-1zM96 477h1v1h-1zM98 477h2v1h-2zM102 477h1v1h-1zM104 477h1v1h-1zM107 477h1v1h-1zM128 477h1v1h-1zM130 477h1v1h-1zM145 477h3v1h-3zM149 477h7v1h-7zM157 477h2v1h-2zM89 478h1v1h-1zM91 478h1v1h-1zM95 478h3v1h-3zM99 478h1v1h-1zM102 478h1v1h-1zM104 478h2v1h-2zM108 478h2v1h-2zM111 478h1v1h-1zM115 478h1v1h-1zM124 478h1v1h-1zM126 478h1v1h-1zM131 478h2v1h-2zM144 478h17v1h-17zM162 478h2v1h-2zM88 479h1v1h-1zM90 479h1v1h-1zM93 479h1v1h-1zM95 479h1v1h-1zM97 479h2v1h-2zM102 479h5v1h-5zM108 479h2v1h-2zM111 479h1v1h-1zM119 479h1v1h-1zM121 479h1v1h-1zM129 479h1v1h-1zM133 479h1v1h-1zM136 479h1v1h-1zM142 479h2v1h-2zM146 479h15v1h-15zM87 480h2v1h-2zM90 480h2v1h-2zM93 480h9v1h-9zM103 480h10v1h-10zM114 480h1v1h-1zM119 480h1v1h-1zM124 480h1v1h-1zM129 480h2v1h-2zM132 480h1v1h-1zM134 480h2v1h-2zM140 480h1v1h-1zM142 480h2v1h-2zM145 480h17v1h-17zM84 481h1v1h-1zM86 481h1v1h-1zM88 481h13v1h-13zM102 481h9v1h-9zM125 481h1v1h-1zM128 481h1v1h-1zM135 481h2v1h-2zM140 481h1v1h-1zM142 481h5v1h-5zM148 481h16v1h-16zM86 482h1v1h-1zM88 482h17v1h-17zM106 482h6v1h-6zM113 482h1v1h-1zM115 482h2v1h-2zM121 482h5v1h-5zM129 482h1v1h-1zM131 482h4v1h-4zM139 482h1v1h-1zM143 482h20v1h-20zM86 483h1v1h-1zM88 483h27v1h-27zM117 483h3v1h-3zM121 483h1v1h-1zM126 483h2v1h-2zM130 483h2v1h-2zM133 483h3v1h-3zM137 483h1v1h-1zM140 483h1v1h-1zM142 483h3v1h-3zM146 483h8v1h-8zM155 483h8v1h-8zM176 483h1v1h-1zM85 484h1v1h-1zM87 484h16v1h-16zM104 484h8v1h-8zM113 484h1v1h-1zM118 484h1v1h-1zM120 484h2v1h-2zM123 484h1v1h-1zM128 484h1v1h-1zM131 484h2v1h-2zM134 484h1v1h-1zM141 484h18v1h-18zM160 484h3v1h-3zM189 484h1v1h-1zM84 485h1v1h-1zM86 485h28v1h-28zM115 485h1v1h-1zM118 485h1v1h-1zM123 485h1v1h-1zM129 485h1v1h-1zM132 485h1v1h-1zM134 485h2v1h-2zM138 485h2v1h-2zM141 485h22v1h-22zM85 486h28v1h-28zM114 486h1v1h-1zM116 486h3v1h-3zM125 486h1v1h-1zM129 486h1v1h-1zM131 486h1v1h-1zM133 486h1v1h-1zM138 486h1v1h-1zM141 486h1v1h-1zM143 486h21v1h-21zM84 487h31v1h-31zM117 487h1v1h-1zM120 487h1v1h-1zM122 487h1v1h-1zM124 487h2v1h-2zM130 487h1v1h-1zM132 487h3v1h-3zM136 487h1v1h-1zM138 487h2v1h-2zM141 487h24v1h-24zM84 488h27v1h-27zM112 488h1v1h-1zM114 488h1v1h-1zM116 488h1v1h-1zM120 488h1v1h-1zM122 488h5v1h-5zM128 488h1v1h-1zM130 488h1v1h-1zM132 488h3v1h-3zM136 488h1v1h-1zM141 488h1v1h-1zM143 488h23v1h-23zM168 488h1v1h-1zM85 489h30v1h-30zM116 489h2v1h-2zM121 489h1v1h-1zM124 489h5v1h-5zM131 489h1v1h-1zM133 489h1v1h-1zM136 489h1v1h-1zM138 489h1v1h-1zM143 489h22v1h-22zM84 490h31v1h-31zM116 490h1v1h-1zM120 490h1v1h-1zM122 490h2v1h-2zM125 490h2v1h-2zM128 490h6v1h-6zM135 490h3v1h-3zM139 490h2v1h-2zM142 490h24v1h-24zM85 491h31v1h-31zM118 491h1v1h-1zM120 491h2v1h-2zM123 491h6v1h-6zM133 491h1v1h-1zM137 491h2v1h-2zM141 491h24v1h-24zM84 492h32v1h-32zM117 492h2v1h-2zM121 492h1v1h-1zM124 492h1v1h-1zM127 492h1v1h-1zM129 492h1v1h-1zM132 492h3v1h-3zM136 492h3v1h-3zM140 492h2v1h-2zM143 492h22v1h-22zM170 492h1v1h-1zM84 493h31v1h-31zM119 493h1v1h-1zM127 493h1v1h-1zM132 493h1v1h-1zM134 493h1v1h-1zM138 493h1v1h-1zM142 493h24v1h-24zM84 494h32v1h-32zM117 494h8v1h-8zM126 494h1v1h-1zM128 494h4v1h-4zM134 494h1v1h-1zM137 494h2v1h-2zM140 494h25v1h-25zM84 495h31v1h-31zM120 495h4v1h-4zM126 495h1v1h-1zM129 495h1v1h-1zM136 495h2v1h-2zM140 495h1v1h-1zM142 495h22v1h-22zM165 495h1v1h-1zM84 496h31v1h-31zM116 496h3v1h-3zM120 496h1v1h-1zM122 496h4v1h-4zM128 496h6v1h-6zM137 496h2v1h-2zM141 496h24v1h-24zM166 496h1v1h-1zM84 497h32v1h-32zM120 497h1v1h-1zM122 497h2v1h-2zM125 497h1v1h-1zM127 497h2v1h-2zM131 497h6v1h-6zM139 497h1v1h-1zM141 497h22v1h-22zM164 497h2v1h-2zM84 498h32v1h-32zM118 498h1v1h-1zM121 498h2v1h-2zM125 498h1v1h-1zM128 498h2v1h-2zM136 498h4v1h-4zM142 498h23v1h-23zM186 498h1v1h-1zM84 499h30v1h-30zM115 499h2v1h-2zM121 499h1v1h-1zM129 499h1v1h-1zM131 499h2v1h-2zM134 499h2v1h-2zM138 499h1v1h-1zM140 499h24v1h-24zM84 500h32v1h-32zM117 500h1v1h-1zM121 500h1v1h-1zM124 500h1v1h-1zM126 500h6v1h-6zM133 500h1v1h-1zM136 500h1v1h-1zM138 500h2v1h-2zM142 500h23v1h-23zM166 500h1v1h-1z" fill="#000"/>
<path d="M84.3 410.2H193.3V500.6" stroke="#333" stroke-width="1" fill="none"/>
<path d="M84.3 410.2V500.6H193.3" stroke="#000" stroke-width="1.3" fill="none"/>
<path d="M118.6 410.2V500.6M84.3 465.3H193.3" stroke="#222" stroke-width="1" fill="none"/>
<path d="M84.30 500.6v2.2M84.3 500.60h-2.2M92.50 500.6v1.2M84.3 493.80h-1.2M97.30 500.6v1.2M84.3 489.82h-1.2M100.71 500.6v1.2M84.3 486.99h-1.2M103.35 500.6v1.2M84.3 484.80h-1.2M105.50 500.6v1.2M84.3 483.01h-1.2M107.33 500.6v1.2M84.3 481.50h-1.2M108.91 500.6v1.2M84.3 480.19h-1.2M110.30 500.6v1.2M84.3 479.03h-1.2M111.55 500.6v2.2M84.3 478.00h-2.2M119.75 500.6v1.2M84.3 471.20h-1.2M124.55 500.6v1.2M84.3 467.22h-1.2M127.96 500.6v1.2M84.3 464.39h-1.2M130.60 500.6v1.2M84.3 462.20h-1.2M132.75 500.6v1.2M84.3 460.41h-1.2M134.58 500.6v1.2M84.3 458.90h-1.2M136.16 500.6v1.2M84.3 457.59h-1.2M137.55 500.6v1.2M84.3 456.43h-1.2M138.80 500.6v2.2M84.3 455.40h-2.2M147.00 500.6v1.2M84.3 448.60h-1.2M151.80 500.6v1.2M84.3 444.62h-1.2M155.21 500.6v1.2M84.3 441.79h-1.2M157.85 500.6v1.2M84.3 439.60h-1.2M160.00 500.6v1.2M84.3 437.81h-1.2M161.83 500.6v1.2M84.3 436.30h-1.2M163.41 500.6v1.2M84.3 434.99h-1.2M164.80 500.6v1.2M84.3 433.83h-1.2M166.05 500.6v2.2M84.3 432.80h-2.2M174.25 500.6v1.2M84.3 426.00h-1.2M179.05 500.6v1.2M84.3 422.02h-1.2M182.46 500.6v1.2M84.3 419.19h-1.2M185.10 500.6v1.2M84.3 417.00h-1.2M187.25 500.6v1.2M84.3 415.21h-1.2M189.08 500.6v1.2M84.3 413.70h-1.2M190.66 500.6v1.2M84.3 412.39h-1.2M192.05 500.6v1.2M84.3 411.23h-1.2M193.30 500.6v2.2M84.3 410.20h-2.2" stroke="#333" stroke-width="0.8" fill="none"/>
<text x="81.10" y="510.50" font-size="7.6" font-weight="bold" textLength="5.6" lengthAdjust="spacingAndGlyphs" fill="#222">10</text>
<text x="87.00" y="506.90" font-size="5.4" fill="#000">0</text>
<text transform="translate(80.10,506.10) rotate(-90)" font-size="6.8" font-weight="bold" textLength="5.4" lengthAdjust="spacingAndGlyphs" fill="#222">10</text>
<text transform="translate(76.60,500.40) rotate(-90)" font-size="5.0" fill="#000">0</text>
<text x="108.35" y="510.50" font-size="7.6" font-weight="bold" textLength="5.6" lengthAdjust="spacingAndGlyphs" fill="#222">10</text>
<text x="114.25" y="506.90" font-size="5.4" fill="#000">1</text>
<text transform="translate(80.10,483.50) rotate(-90)" font-size="6.8" font-weight="bold" textLength="5.4" lengthAdjust="spacingAndGlyphs" fill="#222">10</text>
<text transform="translate(76.60,477.80) rotate(-90)" font-size="5.0" fill="#000">1</text>
<text x="135.60" y="510.50" font-size="7.6" font-weight="bold" textLength="5.6" lengthAdjust="spacingAndGlyphs" fill="#222">10</text>
<text x="141.50" y="506.90" font-size="5.4" fill="#000">2</text>
<text transform="translate(80.10,460.90) rotate(-90)" font-size="6.8" font-weight="bold" textLength="5.4" lengthAdjust="spacingAndGlyphs" fill="#222">10</text>
<text transform="translate(76.60,455.20) rotate(-90)" font-size="5.0" fill="#000">2</text>
<text x="162.85" y="510.50" font-size="7.6" font-weight="bold" textLength="5.6" lengthAdjust="spacingAndGlyphs" fill="#222">10</text>
<text x="168.75" y="506.90" font-size="5.4" fill="#000">3</text>
<text transform="translate(80.10,438.30) rotate(-90)" font-size="6.8" font-weight="bold" textLength="5.4" lengthAdjust="spacingAndGlyphs" fill="#222">10</text>
<text transform="translate(76.60,432.60) rotate(-90)" font-size="5.0" fill="#000">3</text>
<text x="190.10" y="510.50" font-size="7.6" font-weight="bold" textLength="5.6" lengthAdjust="spacingAndGlyphs" fill="#222">10</text>
<text x="196.00" y="506.90" font-size="5.4" fill="#000">4</text>
<text transform="translate(80.10,415.70) rotate(-90)" font-size="6.8" font-weight="bold" textLength="5.4" lengthAdjust="spacingAndGlyphs" fill="#222">10</text>
<text transform="translate(76.60,410.00) rotate(-90)" font-size="5.0" fill="#000">4</text>
<text x="153.75" y="425.00" font-size="15.00" font-weight="normal" textLength="34.34" lengthAdjust="spacingAndGlyphs" fill="#000" >2.2%</text>
<path d="M307 410h1v1h-1zM312 411h1v1h-1zM307 412h1v1h-1zM293 413h1v1h-1zM315 414h1v1h-1zM297 416h1v1h-1zM289 418h1v1h-1zM296 418h1v1h-1zM303 418h1v1h-1zM290 419h1v1h-1zM293 419h1v1h-1zM305 419h1v1h-1zM297 420h1v1h-1zM296 421h1v1h-1zM290 422h1v1h-1zM296 422h1v1h-1zM298 422h1v1h-1zM291 423h1v1h-1zM293 423h1v1h-1zM297 423h1v1h-1zM300 423h2v1h-2zM293 424h1v1h-1zM301 424h1v1h-1zM288 425h1v1h-1zM294 425h1v1h-1zM296 425h1v1h-1zM301 425h1v1h-1zM303 425h1v1h-1zM290 426h1v1h-1zM293 426h2v1h-2zM296 426h1v1h-1zM300 426h1v1h-1zM230 427h1v1h-1zM283 427h1v1h-1zM287 427h1v1h-1zM292 427h1v1h-1zM294 427h2v1h-2zM297 427h1v1h-1zM309 427h1v1h-1zM276 428h1v1h-1zM287 428h1v1h-1zM290 428h3v1h-3zM299 428h1v1h-1zM288 429h1v1h-1zM292 429h5v1h-5zM299 429h1v1h-1zM301 429h2v1h-2zM305 429h1v1h-1zM286 430h2v1h-2zM292 430h5v1h-5zM298 430h4v1h-4zM305 430h1v1h-1zM283 431h1v1h-1zM288 431h1v1h-1zM293 431h2v1h-2zM298 431h3v1h-3zM303 431h1v1h-1zM306 431h2v1h-2zM281 432h2v1h-2zM287 432h9v1h-9zM297 432h2v1h-2zM302 432h1v1h-1zM281 433h1v1h-1zM286 433h1v1h-1zM288 433h7v1h-7zM296 433h2v1h-2zM299 433h2v1h-2zM303 433h2v1h-2zM285 434h1v1h-1zM288 434h1v1h-1zM290 434h7v1h-7zM298 434h1v1h-1zM302 434h1v1h-1zM279 435h1v1h-1zM288 435h8v1h-8zM299 435h1v1h-1zM301 435h1v1h-1zM281 436h1v1h-1zM284 436h1v1h-1zM286 436h11v1h-11zM281 437h2v1h-2zM284 437h3v1h-3zM288 437h8v1h-8zM297 437h1v1h-1zM300 437h1v1h-1zM275 438h2v1h-2zM283 438h1v1h-1zM285 438h12v1h-12zM298 438h1v1h-1zM300 438h1v1h-1zM306 438h1v1h-1zM278 439h1v1h-1zM283 439h5v1h-5zM289 439h6v1h-6zM296 439h1v1h-1zM281 440h5v1h-5zM288 440h4v1h-4zM294 440h1v1h-1zM296 440h1v1h-1zM277 441h1v1h-1zM279 441h1v1h-1zM282 441h1v1h-1zM284 441h1v1h-1zM287 441h5v1h-5zM294 441h1v1h-1zM300 441h1v1h-1zM302 441h1v1h-1zM278 442h1v1h-1zM284 442h3v1h-3zM288 442h3v1h-3zM292 442h2v1h-2zM296 442h2v1h-2zM282 443h6v1h-6zM289 443h6v1h-6zM301 443h1v1h-1zM284 444h1v1h-1zM286 444h4v1h-4zM291 444h2v1h-2zM297 444h1v1h-1zM278 445h3v1h-3zM285 445h1v1h-1zM287 445h4v1h-4zM292 445h2v1h-2zM299 445h1v1h-1zM280 446h1v1h-1zM282 446h1v1h-1zM285 446h3v1h-3zM290 446h1v1h-1zM292 446h1v1h-1zM278 447h1v1h-1zM281 447h1v1h-1zM283 447h1v1h-1zM286 447h6v1h-6zM294 447h1v1h-1zM297 447h1v1h-1zM299 447h1v1h-1zM244 448h1v1h-1zM280 448h1v1h-1zM282 448h1v1h-1zM285 448h3v1h-3zM290 448h1v1h-1zM294 448h1v1h-1zM278 449h2v1h-2zM281 449h2v1h-2zM287 449h1v1h-1zM290 449h1v1h-1zM295 449h1v1h-1zM280 450h3v1h-3zM284 450h2v1h-2zM281 451h1v1h-1zM284 451h1v1h-1zM286 451h2v1h-2zM290 451h1v1h-1zM282 452h1v1h-1zM284 452h2v1h-2zM281 453h2v1h-2zM286 453h1v1h-1zM275 454h1v1h-1zM278 454h1v1h-1zM282 454h1v1h-1zM301 454h1v1h-1zM256 455h1v1h-1zM277 455h1v1h-1zM279 455h1v1h-1zM282 455h1v1h-1zM286 455h1v1h-1zM290 455h1v1h-1zM278 456h1v1h-1zM281 456h1v1h-1zM239 457h1v1h-1zM270 457h1v1h-1zM276 457h2v1h-2zM279 457h2v1h-2zM284 457h1v1h-1zM287 457h1v1h-1zM241 458h1v1h-1zM276 458h1v1h-1zM281 458h1v1h-1zM292 458h1v1h-1zM249 459h1v1h-1zM257 459h1v1h-1zM274 459h1v1h-1zM276 459h1v1h-1zM279 459h1v1h-1zM282 459h1v1h-1zM284 459h1v1h-1zM241 460h1v1h-1zM276 460h1v1h-1zM278 460h3v1h-3zM284 460h1v1h-1zM224 461h1v1h-1zM228 461h1v1h-1zM268 461h1v1h-1zM277 461h1v1h-1zM277 462h2v1h-2zM280 462h1v1h-1zM282 462h1v1h-1zM247 463h1v1h-1zM275 463h1v1h-1zM277 463h1v1h-1zM279 463h1v1h-1zM284 463h1v1h-1zM287 463h1v1h-1zM293 463h1v1h-1zM245 464h1v1h-1zM244 465h1v1h-1zM249 465h1v1h-1zM283 465h1v1h-1zM258 466h1v1h-1zM280 466h2v1h-2zM288 466h1v1h-1zM255 467h1v1h-1zM275 467h1v1h-1zM292 467h1v1h-1zM229 468h1v1h-1zM235 468h1v1h-1zM240 468h1v1h-1zM289 468h1v1h-1zM296 468h1v1h-1zM266 469h1v1h-1zM288 469h1v1h-1zM220 470h1v1h-1zM241 470h1v1h-1zM275 470h1v1h-1zM277 470h1v1h-1zM280 470h2v1h-2zM287 470h1v1h-1zM294 470h1v1h-1zM244 471h1v1h-1zM251 471h1v1h-1zM253 471h2v1h-2zM276 471h1v1h-1zM288 471h1v1h-1zM314 471h1v1h-1zM242 472h1v1h-1zM260 472h1v1h-1zM283 472h2v1h-2zM286 472h1v1h-1zM289 472h1v1h-1zM291 472h3v1h-3zM230 473h1v1h-1zM234 473h1v1h-1zM236 473h1v1h-1zM256 473h3v1h-3zM262 473h1v1h-1zM267 473h1v1h-1zM271 473h1v1h-1zM284 473h1v1h-1zM286 473h3v1h-3zM291 473h1v1h-1zM236 474h1v1h-1zM247 474h1v1h-1zM254 474h1v1h-1zM257 474h1v1h-1zM268 474h1v1h-1zM279 474h1v1h-1zM289 474h1v1h-1zM293 474h1v1h-1zM297 474h1v1h-1zM228 475h1v1h-1zM231 475h1v1h-1zM239 475h1v1h-1zM254 475h1v1h-1zM260 475h1v1h-1zM263 475h1v1h-1zM266 475h1v1h-1zM269 475h1v1h-1zM282 475h1v1h-1zM284 475h6v1h-6zM291 475h1v1h-1zM293 475h2v1h-2zM296 475h1v1h-1zM298 475h1v1h-1zM221 476h1v1h-1zM229 476h1v1h-1zM232 476h1v1h-1zM236 476h1v1h-1zM239 476h4v1h-4zM245 476h1v1h-1zM259 476h1v1h-1zM275 476h1v1h-1zM282 476h9v1h-9zM292 476h3v1h-3zM296 476h2v1h-2zM225 477h1v1h-1zM231 477h2v1h-2zM236 477h1v1h-1zM238 477h3v1h-3zM242 477h3v1h-3zM247 477h2v1h-2zM256 477h1v1h-1zM259 477h2v1h-2zM265 477h1v1h-1zM269 477h1v1h-1zM277 477h2v1h-2zM281 477h12v1h-12zM294 477h4v1h-4zM224 478h1v1h-1zM227 478h11v1h-11zM239 478h7v1h-7zM248 478h1v1h-1zM260 478h1v1h-1zM263 478h1v1h-1zM277 478h1v1h-1zM280 478h2v1h-2zM283 478h8v1h-8zM293 478h2v1h-2zM297 478h3v1h-3zM220 479h1v1h-1zM225 479h7v1h-7zM233 479h9v1h-9zM243 479h1v1h-1zM245 479h1v1h-1zM248 479h1v1h-1zM253 479h1v1h-1zM256 479h1v1h-1zM262 479h1v1h-1zM264 479h1v1h-1zM270 479h2v1h-2zM276 479h1v1h-1zM279 479h1v1h-1zM281 479h14v1h-14zM296 479h2v1h-2zM299 479h1v1h-1zM301 479h1v1h-1zM222 480h3v1h-3zM226 480h11v1h-11zM238 480h4v1h-4zM243 480h2v1h-2zM247 480h1v1h-1zM249 480h1v1h-1zM258 480h1v1h-1zM261 480h2v1h-2zM264 480h2v1h-2zM269 480h1v1h-1zM271 480h2v1h-2zM275 480h2v1h-2zM278 480h7v1h-7zM286 480h12v1h-12zM299 480h1v1h-1zM220 481h24v1h-24zM245 481h3v1h-3zM251 481h3v1h-3zM255 481h3v1h-3zM260 481h2v1h-2zM266 481h1v1h-1zM274 481h1v1h-1zM278 481h3v1h-3zM282 481h14v1h-14zM297 481h2v1h-2zM220 482h1v1h-1zM222 482h6v1h-6zM229 482h16v1h-16zM246 482h1v1h-1zM248 482h1v1h-1zM250 482h1v1h-1zM253 482h1v1h-1zM256 482h2v1h-2zM259 482h1v1h-1zM262 482h2v1h-2zM265 482h1v1h-1zM270 482h1v1h-1zM272 482h3v1h-3zM278 482h2v1h-2zM281 482h17v1h-17zM299 482h2v1h-2zM220 483h2v1h-2zM223 483h24v1h-24zM248 483h2v1h-2zM251 483h1v1h-1zM255 483h4v1h-4zM260 483h1v1h-1zM262 483h2v1h-2zM266 483h1v1h-1zM268 483h2v1h-2zM272 483h21v1h-21zM294 483h3v1h-3zM298 483h2v1h-2zM221 484h27v1h-27zM249 484h1v1h-1zM255 484h2v1h-2zM258 484h1v1h-1zM260 484h1v1h-1zM262 484h1v1h-1zM265 484h1v1h-1zM267 484h3v1h-3zM274 484h1v1h-1zM277 484h1v1h-1zM279 484h21v1h-21zM301 484h1v1h-1zM221 485h28v1h-28zM250 485h1v1h-1zM254 485h4v1h-4zM259 485h3v1h-3zM264 485h3v1h-3zM269 485h5v1h-5zM275 485h1v1h-1zM278 485h21v1h-21zM300 485h2v1h-2zM220 486h29v1h-29zM251 486h1v1h-1zM254 486h1v1h-1zM257 486h1v1h-1zM259 486h1v1h-1zM265 486h1v1h-1zM268 486h2v1h-2zM271 486h1v1h-1zM273 486h1v1h-1zM275 486h1v1h-1zM278 486h1v1h-1zM280 486h21v1h-21zM220 487h29v1h-29zM251 487h2v1h-2zM254 487h2v1h-2zM258 487h2v1h-2zM261 487h2v1h-2zM264 487h3v1h-3zM268 487h1v1h-1zM270 487h1v1h-1zM276 487h1v1h-1zM278 487h23v1h-23zM220 488h32v1h-32zM253 488h2v1h-2zM258 488h4v1h-4zM263 488h2v1h-2zM266 488h1v1h-1zM269 488h3v1h-3zM273 488h1v1h-1zM275 488h3v1h-3zM279 488h1v1h-1zM281 488h18v1h-18zM300 488h2v1h-2zM220 489h34v1h-34zM255 489h3v1h-3zM260 489h1v1h-1zM265 489h1v1h-1zM268 489h1v1h-1zM270 489h1v1h-1zM272 489h3v1h-3zM276 489h1v1h-1zM278 489h22v1h-22zM301 489h2v1h-2zM220 490h33v1h-33zM255 490h3v1h-3zM259 490h1v1h-1zM261 490h2v1h-2zM264 490h1v1h-1zM268 490h2v1h-2zM273 490h2v1h-2zM277 490h24v1h-24zM306 490h1v1h-1zM220 491h31v1h-31zM252 491h1v1h-1zM254 491h3v1h-3zM258 491h4v1h-4zM263 491h8v1h-8zM274 491h2v1h-2zM278 491h24v1h-24zM220 492h29v1h-29zM252 492h1v1h-1zM254 492h1v1h-1zM256 492h1v1h-1zM258 492h2v1h-2zM262 492h1v1h-1zM264 492h1v1h-1zM267 492h1v1h-1zM269 492h1v1h-1zM272 492h1v1h-1zM275 492h28v1h-28zM221 493h29v1h-29zM251 493h2v1h-2zM254 493h3v1h-3zM258 493h8v1h-8zM267 493h1v1h-1zM269 493h2v1h-2zM272 493h1v1h-1zM274 493h2v1h-2zM277 493h1v1h-1zM279 493h24v1h-24zM220 494h32v1h-32zM254 494h1v1h-1zM256 494h4v1h-4zM261 494h1v1h-1zM263 494h3v1h-3zM267 494h4v1h-4zM272 494h1v1h-1zM274 494h1v1h-1zM276 494h1v1h-1zM278 494h22v1h-22zM301 494h1v1h-1zM220 495h32v1h-32zM253 495h6v1h-6zM260 495h1v1h-1zM264 495h10v1h-10zM275 495h1v1h-1zM278 495h23v1h-23zM220 496h36v1h-36zM257 496h3v1h-3zM262 496h5v1h-5zM270 496h2v1h-2zM273 496h1v1h-1zM277 496h26v1h-26zM220 497h33v1h-33zM254 497h1v1h-1zM257 497h2v1h-2zM262 497h5v1h-5zM270 497h1v1h-1zM272 497h1v1h-1zM274 497h1v1h-1zM276 497h24v1h-24zM303 497h1v1h-1zM220 498h30v1h-30zM252 498h1v1h-1zM254 498h4v1h-4zM259 498h2v1h-2zM263 498h1v1h-1zM265 498h2v1h-2zM269 498h4v1h-4zM275 498h1v1h-1zM279 498h22v1h-22zM303 498h1v1h-1zM220 499h32v1h-32zM253 499h1v1h-1zM255 499h7v1h-7zM265 499h3v1h-3zM269 499h7v1h-7zM277 499h25v1h-25z" fill="#000"/>
<path d="M219.5 410.0H329.3V500.5" stroke="#333" stroke-width="1" fill="none"/>
<path d="M219.5 410.0V500.5H329.3" stroke="#000" stroke-width="1.3" fill="none"/>
<path d="M254.3 410.0V500.5M219.5 465.0H329.3" stroke="#222" stroke-width="1" fill="none"/>
<path d="M219.50 500.5v2.2M219.5 500.50h-2.2M227.76 500.5v1.2M219.5 493.69h-1.2M232.60 500.5v1.2M219.5 489.71h-1.2M236.03 500.5v1.2M219.5 486.88h-1.2M238.69 500.5v1.2M219.5 484.69h-1.2M240.86 500.5v1.2M219.5 482.89h-1.2M242.70 500.5v1.2M219.5 481.38h-1.2M244.29 500.5v1.2M219.5 480.07h-1.2M245.69 500.5v1.2M219.5 478.91h-1.2M246.95 500.5v2.2M219.5 477.88h-2.2M255.21 500.5v1.2M219.5 471.06h-1.2M260.05 500.5v1.2M219.5 467.08h-1.2M263.48 500.5v1.2M219.5 464.25h-1.2M266.14 500.5v1.2M219.5 462.06h-1.2M268.31 500.5v1.2M219.5 460.27h-1.2M270.15 500.5v1.2M219.5 458.75h-1.2M271.74 500.5v1.2M219.5 457.44h-1.2M273.14 500.5v1.2M219.5 456.29h-1.2M274.40 500.5v2.2M219.5 455.25h-2.2M282.66 500.5v1.2M219.5 448.44h-1.2M287.50 500.5v1.2M219.5 444.46h-1.2M290.93 500.5v1.2M219.5 441.63h-1.2M293.59 500.5v1.2M219.5 439.44h-1.2M295.76 500.5v1.2M219.5 437.64h-1.2M297.60 500.5v1.2M219.5 436.13h-1.2M299.19 500.5v1.2M219.5 434.82h-1.2M300.59 500.5v1.2M219.5 433.66h-1.2M301.85 500.5v2.2M219.5 432.62h-2.2M310.11 500.5v1.2M219.5 425.81h-1.2M314.95 500.5v1.2M219.5 421.83h-1.2M318.38 500.5v1.2M219.5 419.00h-1.2M321.04 500.5v1.2M219.5 416.81h-1.2M323.21 500.5v1.2M219.5 415.02h-1.2M325.05 500.5v1.2M219.5 413.50h-1.2M326.64 500.5v1.2M219.5 412.19h-1.2M328.04 500.5v1.2M219.5 411.04h-1.2M329.30 500.5v2.2M219.5 410.00h-2.2" stroke="#333" stroke-width="0.8" fill="none"/>
<text x="217.20" y="512.20" font-size="7.6" font-weight="bold" textLength="5.6" lengthAdjust="spacingAndGlyphs" fill="#222">10</text>
<text x="223.10" y="508.60" font-size="5.4" fill="#000">0</text>
<text transform="translate(215.90,506.00) rotate(-90)" font-size="6.8" font-weight="bold" textLength="5.4" lengthAdjust="spacingAndGlyphs" fill="#222">10</text>
<text transform="translate(212.40,500.30) rotate(-90)" font-size="5.0" fill="#000">0</text>
<text x="244.65" y="512.20" font-size="7.6" font-weight="bold" textLength="5.6" lengthAdjust="spacingAndGlyphs" fill="#222">10</text>
<text x="250.55" y="508.60" font-size="5.4" fill="#000">1</text>
<text transform="translate(215.90,483.38) rotate(-90)" font-size="6.8" font-weight="bold" textLength="5.4" lengthAdjust="spacingAndGlyphs" fill="#222">10</text>
<text transform="translate(212.40,477.68) rotate(-90)" font-size="5.0" fill="#000">1</text>
<text x="272.10" y="512.20" font-size="7.6" font-weight="bold" textLength="5.6" lengthAdjust="spacingAndGlyphs" fill="#222">10</text>
<text x="278.00" y="508.60" font-size="5.4" fill="#000">2</text>
<text transform="translate(215.90,460.75) rotate(-90)" font-size="6.8" font-weight="bold" textLength="5.4" lengthAdjust="spacingAndGlyphs" fill="#222">10</text>
<text transform="translate(212.40,455.05) rotate(-90)" font-size="5.0" fill="#000">2</text>
<text x="299.55" y="512.20" font-size="7.6" font-weight="bold" textLength="5.6" lengthAdjust="spacingAndGlyphs" fill="#222">10</text>
<text x="305.45" y="508.60" font-size="5.4" fill="#000">3</text>
<text transform="translate(215.90,438.12) rotate(-90)" font-size="6.8" font-weight="bold" textLength="5.4" lengthAdjust="spacingAndGlyphs" fill="#222">10</text>
<text transform="translate(212.40,432.43) rotate(-90)" font-size="5.0" fill="#000">3</text>
<text x="327.00" y="512.20" font-size="7.6" font-weight="bold" textLength="5.6" lengthAdjust="spacingAndGlyphs" fill="#222">10</text>
<text x="332.90" y="508.60" font-size="5.4" fill="#000">4</text>
<text transform="translate(215.90,415.50) rotate(-90)" font-size="6.8" font-weight="bold" textLength="5.4" lengthAdjust="spacingAndGlyphs" fill="#222">10</text>
<text transform="translate(212.40,409.80) rotate(-90)" font-size="5.0" fill="#000">4</text>
<text x="289.23" y="424.30" font-size="15.00" font-weight="normal" textLength="35.18" lengthAdjust="spacingAndGlyphs" fill="#000" >2.8%</text>
<path d="M431 412h1v1h-1zM383 415h1v1h-1zM436 415h1v1h-1zM418 416h1v1h-1zM433 417h1v1h-1zM454 418h1v1h-1zM424 419h1v1h-1zM419 421h1v1h-1zM422 421h1v1h-1zM425 423h1v1h-1zM429 423h1v1h-1zM413 424h1v1h-1zM420 425h2v1h-2zM426 425h1v1h-1zM429 425h1v1h-1zM433 425h1v1h-1zM414 426h1v1h-1zM421 426h1v1h-1zM423 426h2v1h-2zM426 426h1v1h-1zM430 426h1v1h-1zM410 427h1v1h-1zM413 427h2v1h-2zM417 427h1v1h-1zM422 427h1v1h-1zM426 427h1v1h-1zM437 427h1v1h-1zM411 428h1v1h-1zM421 428h2v1h-2zM425 428h2v1h-2zM430 428h1v1h-1zM436 428h1v1h-1zM405 429h1v1h-1zM409 429h1v1h-1zM414 429h1v1h-1zM416 429h1v1h-1zM418 429h1v1h-1zM420 429h6v1h-6zM429 429h3v1h-3zM434 429h1v1h-1zM436 429h1v1h-1zM415 430h1v1h-1zM417 430h1v1h-1zM419 430h5v1h-5zM425 430h2v1h-2zM407 431h1v1h-1zM410 431h3v1h-3zM417 431h3v1h-3zM421 431h2v1h-2zM424 431h1v1h-1zM426 431h2v1h-2zM412 432h1v1h-1zM417 432h1v1h-1zM419 432h2v1h-2zM422 432h1v1h-1zM425 432h2v1h-2zM428 432h1v1h-1zM435 432h1v1h-1zM437 432h1v1h-1zM406 433h1v1h-1zM409 433h1v1h-1zM411 433h1v1h-1zM413 433h1v1h-1zM416 433h1v1h-1zM418 433h4v1h-4zM423 433h4v1h-4zM429 433h2v1h-2zM435 433h1v1h-1zM413 434h4v1h-4zM418 434h10v1h-10zM434 434h1v1h-1zM408 435h3v1h-3zM413 435h1v1h-1zM415 435h3v1h-3zM420 435h3v1h-3zM424 435h1v1h-1zM426 435h2v1h-2zM429 435h1v1h-1zM432 435h1v1h-1zM413 436h1v1h-1zM416 436h12v1h-12zM430 436h2v1h-2zM434 436h1v1h-1zM410 437h1v1h-1zM412 437h1v1h-1zM414 437h11v1h-11zM430 437h1v1h-1zM448 437h1v1h-1zM407 438h1v1h-1zM412 438h1v1h-1zM414 438h9v1h-9zM428 438h2v1h-2zM436 438h1v1h-1zM406 439h1v1h-1zM411 439h8v1h-8zM420 439h3v1h-3zM424 439h2v1h-2zM427 439h3v1h-3zM432 439h1v1h-1zM434 439h1v1h-1zM397 440h1v1h-1zM402 440h1v1h-1zM408 440h1v1h-1zM412 440h13v1h-13zM427 440h1v1h-1zM429 440h2v1h-2zM412 441h1v1h-1zM414 441h2v1h-2zM417 441h11v1h-11zM432 441h1v1h-1zM408 442h4v1h-4zM413 442h9v1h-9zM424 442h3v1h-3zM428 442h1v1h-1zM431 442h1v1h-1zM435 442h1v1h-1zM409 443h1v1h-1zM411 443h4v1h-4zM416 443h3v1h-3zM420 443h1v1h-1zM425 443h1v1h-1zM429 443h1v1h-1zM431 443h1v1h-1zM436 443h1v1h-1zM406 444h1v1h-1zM408 444h1v1h-1zM410 444h4v1h-4zM418 444h9v1h-9zM430 444h1v1h-1zM434 444h1v1h-1zM401 445h1v1h-1zM407 445h2v1h-2zM410 445h1v1h-1zM412 445h7v1h-7zM420 445h6v1h-6zM427 445h1v1h-1zM383 446h1v1h-1zM407 446h2v1h-2zM410 446h2v1h-2zM413 446h2v1h-2zM416 446h7v1h-7zM424 446h1v1h-1zM429 446h1v1h-1zM434 446h1v1h-1zM404 447h2v1h-2zM409 447h3v1h-3zM414 447h1v1h-1zM416 447h3v1h-3zM420 447h3v1h-3zM424 447h2v1h-2zM403 448h1v1h-1zM405 448h1v1h-1zM409 448h1v1h-1zM412 448h1v1h-1zM415 448h3v1h-3zM424 448h1v1h-1zM430 448h1v1h-1zM411 449h1v1h-1zM414 449h5v1h-5zM420 449h1v1h-1zM431 449h1v1h-1zM387 450h1v1h-1zM406 450h1v1h-1zM410 450h1v1h-1zM414 450h3v1h-3zM420 450h1v1h-1zM422 450h1v1h-1zM402 451h1v1h-1zM406 451h2v1h-2zM410 451h1v1h-1zM413 451h1v1h-1zM416 451h1v1h-1zM421 451h1v1h-1zM423 451h2v1h-2zM430 451h1v1h-1zM401 452h1v1h-1zM411 452h1v1h-1zM414 452h5v1h-5zM420 452h1v1h-1zM429 452h1v1h-1zM391 453h1v1h-1zM397 453h1v1h-1zM404 453h2v1h-2zM407 453h1v1h-1zM414 453h2v1h-2zM422 453h1v1h-1zM425 453h1v1h-1zM400 454h1v1h-1zM407 454h2v1h-2zM410 454h1v1h-1zM412 454h1v1h-1zM415 454h1v1h-1zM417 454h2v1h-2zM383 455h1v1h-1zM396 455h1v1h-1zM403 455h2v1h-2zM407 455h4v1h-4zM412 455h2v1h-2zM415 455h1v1h-1zM418 455h1v1h-1zM396 456h1v1h-1zM401 456h1v1h-1zM410 456h4v1h-4zM416 456h2v1h-2zM423 456h1v1h-1zM379 457h1v1h-1zM403 457h1v1h-1zM408 457h2v1h-2zM412 457h2v1h-2zM440 457h1v1h-1zM402 458h2v1h-2zM405 458h2v1h-2zM408 458h1v1h-1zM405 459h1v1h-1zM407 459h1v1h-1zM410 459h2v1h-2zM413 459h1v1h-1zM418 459h1v1h-1zM381 460h1v1h-1zM404 460h1v1h-1zM408 460h1v1h-1zM413 460h1v1h-1zM404 461h2v1h-2zM408 461h1v1h-1zM412 461h2v1h-2zM416 461h2v1h-2zM406 462h1v1h-1zM429 462h1v1h-1zM406 463h1v1h-1zM417 463h1v1h-1zM410 464h2v1h-2zM401 465h1v1h-1zM404 465h1v1h-1zM406 465h1v1h-1zM412 465h1v1h-1zM360 466h1v1h-1zM410 466h1v1h-1zM412 466h2v1h-2zM378 467h1v1h-1zM387 467h1v1h-1zM393 467h1v1h-1zM400 467h1v1h-1zM425 467h1v1h-1zM367 468h1v1h-1zM379 468h1v1h-1zM397 468h1v1h-1zM405 468h1v1h-1zM413 468h1v1h-1zM418 468h1v1h-1zM425 468h1v1h-1zM370 469h1v1h-1zM376 469h1v1h-1zM382 469h1v1h-1zM391 469h1v1h-1zM396 469h1v1h-1zM400 469h1v1h-1zM408 469h1v1h-1zM410 469h1v1h-1zM413 469h1v1h-1zM418 469h1v1h-1zM357 470h1v1h-1zM393 470h1v1h-1zM401 470h1v1h-1zM406 470h1v1h-1zM413 470h1v1h-1zM419 470h1v1h-1zM423 470h1v1h-1zM362 471h1v1h-1zM367 471h1v1h-1zM372 471h2v1h-2zM375 471h1v1h-1zM381 471h1v1h-1zM395 471h1v1h-1zM404 471h1v1h-1zM410 471h1v1h-1zM413 471h1v1h-1zM415 471h1v1h-1zM359 472h1v1h-1zM369 472h1v1h-1zM394 472h1v1h-1zM400 472h1v1h-1zM403 472h1v1h-1zM410 472h1v1h-1zM413 472h2v1h-2zM422 472h1v1h-1zM378 473h1v1h-1zM381 473h1v1h-1zM387 473h1v1h-1zM397 473h1v1h-1zM408 473h1v1h-1zM410 473h1v1h-1zM417 473h1v1h-1zM420 473h1v1h-1zM423 473h1v1h-1zM425 473h1v1h-1zM429 473h1v1h-1zM355 474h2v1h-2zM360 474h1v1h-1zM365 474h1v1h-1zM369 474h1v1h-1zM373 474h1v1h-1zM385 474h2v1h-2zM410 474h1v1h-1zM414 474h2v1h-2zM417 474h1v1h-1zM419 474h2v1h-2zM423 474h1v1h-1zM425 474h1v1h-1zM428 474h1v1h-1zM351 475h1v1h-1zM357 475h1v1h-1zM359 475h2v1h-2zM362 475h3v1h-3zM368 475h1v1h-1zM370 475h1v1h-1zM376 475h1v1h-1zM383 475h1v1h-1zM397 475h1v1h-1zM403 475h1v1h-1zM410 475h15v1h-15zM355 476h2v1h-2zM358 476h1v1h-1zM360 476h2v1h-2zM363 476h3v1h-3zM368 476h1v1h-1zM373 476h4v1h-4zM381 476h1v1h-1zM383 476h1v1h-1zM387 476h1v1h-1zM391 476h1v1h-1zM394 476h1v1h-1zM396 476h1v1h-1zM398 476h1v1h-1zM405 476h1v1h-1zM409 476h2v1h-2zM412 476h9v1h-9zM422 476h1v1h-1zM424 476h2v1h-2zM361 477h2v1h-2zM364 477h10v1h-10zM375 477h1v1h-1zM377 477h2v1h-2zM381 477h2v1h-2zM384 477h1v1h-1zM391 477h2v1h-2zM394 477h5v1h-5zM405 477h1v1h-1zM409 477h2v1h-2zM412 477h16v1h-16zM354 478h2v1h-2zM357 478h3v1h-3zM361 478h14v1h-14zM377 478h3v1h-3zM381 478h1v1h-1zM384 478h2v1h-2zM393 478h2v1h-2zM399 478h1v1h-1zM402 478h1v1h-1zM404 478h3v1h-3zM409 478h10v1h-10zM420 478h6v1h-6zM428 478h1v1h-1zM430 478h1v1h-1zM353 479h3v1h-3zM357 479h4v1h-4zM362 479h3v1h-3zM366 479h16v1h-16zM383 479h1v1h-1zM385 479h1v1h-1zM387 479h1v1h-1zM390 479h3v1h-3zM395 479h1v1h-1zM397 479h2v1h-2zM400 479h1v1h-1zM403 479h1v1h-1zM405 479h1v1h-1zM407 479h20v1h-20zM428 479h3v1h-3zM353 480h3v1h-3zM357 480h21v1h-21zM379 480h3v1h-3zM383 480h1v1h-1zM385 480h1v1h-1zM387 480h6v1h-6zM395 480h1v1h-1zM404 480h1v1h-1zM407 480h19v1h-19zM427 480h1v1h-1zM429 480h1v1h-1zM354 481h34v1h-34zM391 481h1v1h-1zM398 481h1v1h-1zM402 481h12v1h-12zM415 481h12v1h-12zM428 481h2v1h-2zM434 481h1v1h-1zM352 482h1v1h-1zM354 482h30v1h-30zM385 482h1v1h-1zM392 482h1v1h-1zM394 482h2v1h-2zM400 482h3v1h-3zM404 482h1v1h-1zM407 482h25v1h-25zM351 483h4v1h-4zM356 483h29v1h-29zM388 483h2v1h-2zM392 483h2v1h-2zM396 483h1v1h-1zM398 483h1v1h-1zM400 483h1v1h-1zM404 483h2v1h-2zM409 483h21v1h-21zM432 483h1v1h-1zM353 484h24v1h-24zM378 484h8v1h-8zM387 484h7v1h-7zM397 484h3v1h-3zM401 484h1v1h-1zM405 484h24v1h-24zM353 485h40v1h-40zM394 485h4v1h-4zM399 485h1v1h-1zM401 485h3v1h-3zM405 485h22v1h-22zM428 485h1v1h-1zM430 485h2v1h-2zM434 485h1v1h-1zM351 486h32v1h-32zM384 486h6v1h-6zM392 486h4v1h-4zM397 486h2v1h-2zM400 486h1v1h-1zM402 486h28v1h-28zM431 486h2v1h-2zM351 487h35v1h-35zM387 487h1v1h-1zM389 487h1v1h-1zM391 487h1v1h-1zM394 487h3v1h-3zM401 487h1v1h-1zM403 487h28v1h-28zM432 487h1v1h-1zM352 488h38v1h-38zM391 488h6v1h-6zM398 488h2v1h-2zM401 488h31v1h-31zM352 489h34v1h-34zM387 489h4v1h-4zM392 489h4v1h-4zM398 489h2v1h-2zM403 489h26v1h-26zM430 489h2v1h-2zM435 489h1v1h-1zM352 490h31v1h-31zM384 490h4v1h-4zM391 490h1v1h-1zM393 490h3v1h-3zM398 490h2v1h-2zM401 490h32v1h-32zM351 491h39v1h-39zM391 491h1v1h-1zM393 491h1v1h-1zM396 491h5v1h-5zM402 491h1v1h-1zM404 491h27v1h-27zM432 491h1v1h-1zM435 491h1v1h-1zM351 492h38v1h-38zM390 492h1v1h-1zM392 492h1v1h-1zM394 492h2v1h-2zM398 492h1v1h-1zM400 492h3v1h-3zM404 492h25v1h-25zM430 492h1v1h-1zM432 492h2v1h-2zM351 493h34v1h-34zM386 493h9v1h-9zM396 493h1v1h-1zM398 493h35v1h-35zM351 494h34v1h-34zM386 494h5v1h-5zM392 494h1v1h-1zM395 494h1v1h-1zM397 494h2v1h-2zM400 494h3v1h-3zM404 494h26v1h-26zM431 494h3v1h-3zM435 494h1v1h-1zM352 495h34v1h-34zM387 495h1v1h-1zM389 495h5v1h-5zM395 495h1v1h-1zM398 495h35v1h-35zM351 496h46v1h-46zM398 496h1v1h-1zM400 496h32v1h-32zM351 497h37v1h-37zM390 497h2v1h-2zM394 497h1v1h-1zM396 497h2v1h-2zM399 497h33v1h-33zM351 498h34v1h-34zM386 498h1v1h-1zM390 498h2v1h-2zM394 498h2v1h-2zM397 498h6v1h-6zM404 498h27v1h-27zM432 498h1v1h-1zM439 498h1v1h-1zM352 499h34v1h-34zM387 499h1v1h-1zM390 499h5v1h-5zM397 499h3v1h-3zM401 499h2v1h-2zM404 499h29v1h-29zM351 500h37v1h-37zM389 500h5v1h-5zM396 500h2v1h-2zM400 500h2v1h-2zM403 500h29v1h-29zM434 500h1v1h-1z" fill="#000"/>
<path d="M351.2 410.0H459.6V501.3" stroke="#333" stroke-width="1" fill="none"/>
<path d="M351.2 410.0V501.3H459.6" stroke="#000" stroke-width="1.3" fill="none"/>
<path d="M385.0 410.0V501.3M351.2 465.2H459.6" stroke="#222" stroke-width="1" fill="none"/>
<path d="M351.20 501.3v2.2M351.2 501.30h-2.2M359.36 501.3v1.2M351.2 494.43h-1.2M364.13 501.3v1.2M351.2 490.41h-1.2M367.52 501.3v1.2M351.2 487.56h-1.2M370.14 501.3v1.2M351.2 485.35h-1.2M372.29 501.3v1.2M351.2 483.54h-1.2M374.10 501.3v1.2M351.2 482.01h-1.2M375.67 501.3v1.2M351.2 480.69h-1.2M377.06 501.3v1.2M351.2 479.52h-1.2M378.30 501.3v2.2M351.2 478.48h-2.2M386.46 501.3v1.2M351.2 471.60h-1.2M391.23 501.3v1.2M351.2 467.58h-1.2M394.62 501.3v1.2M351.2 464.73h-1.2M397.24 501.3v1.2M351.2 462.52h-1.2M399.39 501.3v1.2M351.2 460.71h-1.2M401.20 501.3v1.2M351.2 459.19h-1.2M402.77 501.3v1.2M351.2 457.86h-1.2M404.16 501.3v1.2M351.2 456.69h-1.2M405.40 501.3v2.2M351.2 455.65h-2.2M413.56 501.3v1.2M351.2 448.78h-1.2M418.33 501.3v1.2M351.2 444.76h-1.2M421.72 501.3v1.2M351.2 441.91h-1.2M424.34 501.3v1.2M351.2 439.70h-1.2M426.49 501.3v1.2M351.2 437.89h-1.2M428.30 501.3v1.2M351.2 436.36h-1.2M429.87 501.3v1.2M351.2 435.04h-1.2M431.26 501.3v1.2M351.2 433.87h-1.2M432.50 501.3v2.2M351.2 432.82h-2.2M440.66 501.3v1.2M351.2 425.95h-1.2M445.43 501.3v1.2M351.2 421.93h-1.2M448.82 501.3v1.2M351.2 419.08h-1.2M451.44 501.3v1.2M351.2 416.87h-1.2M453.59 501.3v1.2M351.2 415.06h-1.2M455.40 501.3v1.2M351.2 413.54h-1.2M456.97 501.3v1.2M351.2 412.21h-1.2M458.36 501.3v1.2M351.2 411.04h-1.2M459.60 501.3v2.2M351.2 410.00h-2.2" stroke="#333" stroke-width="0.8" fill="none"/>
<text x="349.10" y="513.00" font-size="7.6" font-weight="bold" textLength="5.6" lengthAdjust="spacingAndGlyphs" fill="#222">10</text>
<text x="355.00" y="509.40" font-size="5.4" fill="#000">0</text>
<text transform="translate(348.10,506.50) rotate(-90)" font-size="6.8" font-weight="bold" textLength="5.4" lengthAdjust="spacingAndGlyphs" fill="#222">10</text>
<text transform="translate(344.60,500.80) rotate(-90)" font-size="5.0" fill="#000">0</text>
<text x="376.20" y="513.00" font-size="7.6" font-weight="bold" textLength="5.6" lengthAdjust="spacingAndGlyphs" fill="#222">10</text>
<text x="382.10" y="509.40" font-size="5.4" fill="#000">1</text>
<text transform="translate(348.10,483.68) rotate(-90)" font-size="6.8" font-weight="bold" textLength="5.4" lengthAdjust="spacingAndGlyphs" fill="#222">10</text>
<text transform="translate(344.60,477.98) rotate(-90)" font-size="5.0" fill="#000">1</text>
<text x="403.30" y="513.00" font-size="7.6" font-weight="bold" textLength="5.6" lengthAdjust="spacingAndGlyphs" fill="#222">10</text>
<text x="409.20" y="509.40" font-size="5.4" fill="#000">2</text>
<text transform="translate(348.10,460.85) rotate(-90)" font-size="6.8" font-weight="bold" textLength="5.4" lengthAdjust="spacingAndGlyphs" fill="#222">10</text>
<text transform="translate(344.60,455.15) rotate(-90)" font-size="5.0" fill="#000">2</text>
<text x="430.40" y="513.00" font-size="7.6" font-weight="bold" textLength="5.6" lengthAdjust="spacingAndGlyphs" fill="#222">10</text>
<text x="436.30" y="509.40" font-size="5.4" fill="#000">3</text>
<text transform="translate(348.10,438.02) rotate(-90)" font-size="6.8" font-weight="bold" textLength="5.4" lengthAdjust="spacingAndGlyphs" fill="#222">10</text>
<text transform="translate(344.60,432.32) rotate(-90)" font-size="5.0" fill="#000">3</text>
<text x="457.50" y="513.00" font-size="7.6" font-weight="bold" textLength="5.6" lengthAdjust="spacingAndGlyphs" fill="#222">10</text>
<text x="463.40" y="509.40" font-size="5.4" fill="#000">4</text>
<text transform="translate(348.10,415.20) rotate(-90)" font-size="6.8" font-weight="bold" textLength="5.4" lengthAdjust="spacingAndGlyphs" fill="#222">10</text>
<text transform="translate(344.60,409.50) rotate(-90)" font-size="5.0" fill="#000">4</text>
<text x="421.91" y="424.30" font-size="15.00" font-weight="normal" textLength="33.67" lengthAdjust="spacingAndGlyphs" fill="#000" >3.7%</text>
</svg></body></html>
